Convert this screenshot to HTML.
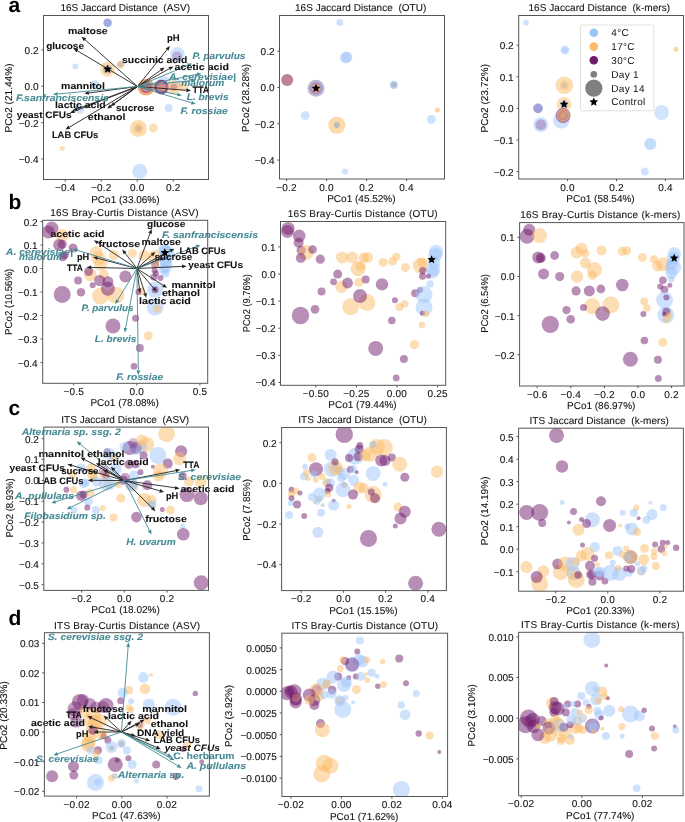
<!DOCTYPE html>
<html><head><meta charset="utf-8"><style>
html,body{margin:0;padding:0;background:#fff;}
svg{display:block;will-change:transform;}
text{font-family:"Liberation Sans", sans-serif;text-rendering:geometricPrecision;}
.r{stroke:#1a1a1a;stroke-width:0.12px;letter-spacing:0.2px;}
.q{stroke:#1a1a1a;stroke-width:0.1px;}
.r0{stroke:#1a1a1a;stroke-width:0.12px;}
</style></head><body>
<svg width="685" height="822" viewBox="0 0 685 822">
<text class="q" x="60.5" y="11.3" font-size="10" fill="#111111" textLength="129.5" lengthAdjust="spacing" xml:space="preserve">16S Jaccard Distance  (ASV)</text>
<line x1="65.2" y1="179.5" x2="65.2" y2="181.7" stroke="#555" stroke-width="1"/>
<text class="r" x="65.2" y="191.2" text-anchor="middle" font-size="10" fill="#111111">−0.4</text>
<line x1="101.2" y1="179.5" x2="101.2" y2="181.7" stroke="#555" stroke-width="1"/>
<text class="r" x="101.2" y="191.2" text-anchor="middle" font-size="10" fill="#111111">−0.2</text>
<line x1="137.2" y1="179.5" x2="137.2" y2="181.7" stroke="#555" stroke-width="1"/>
<text class="r" x="137.2" y="191.2" text-anchor="middle" font-size="10" fill="#111111">0.0</text>
<line x1="173.2" y1="179.5" x2="173.2" y2="181.7" stroke="#555" stroke-width="1"/>
<text class="r" x="173.2" y="191.2" text-anchor="middle" font-size="10" fill="#111111">0.2</text>
<line x1="41.3" y1="49.9" x2="43.5" y2="49.9" stroke="#555" stroke-width="1"/>
<text class="r0" x="38.5" y="53.8" text-anchor="end" font-size="10" fill="#111111">0.2</text>
<line x1="41.3" y1="86.25" x2="43.5" y2="86.25" stroke="#555" stroke-width="1"/>
<text class="r0" x="38.5" y="90.15" text-anchor="end" font-size="10" fill="#111111">0.0</text>
<line x1="41.3" y1="122.6" x2="43.5" y2="122.6" stroke="#555" stroke-width="1"/>
<text class="r0" x="38.5" y="126.5" text-anchor="end" font-size="10" fill="#111111">−0.2</text>
<line x1="41.3" y1="158.95" x2="43.5" y2="158.95" stroke="#555" stroke-width="1"/>
<text class="r0" x="38.5" y="162.85" text-anchor="end" font-size="10" fill="#111111">−0.4</text>
<text class="q" x="125.4" y="202.5" text-anchor="middle" font-size="10" fill="#111111">PCo1 (33.06%)</text>
<text class="q" x="12.5" y="132.4" font-size="10" fill="#111111" textLength="68.9" lengthAdjust="spacingAndGlyphs" transform="rotate(-90 12.5 132.4)">PCo2 (21.44%)</text>
<text class="q" x="295.0" y="11.3" font-size="10" fill="#111111" textLength="131.3" lengthAdjust="spacing" xml:space="preserve">16S Jaccard Distance  (OTU)</text>
<line x1="286.6" y1="179.0" x2="286.6" y2="181.2" stroke="#555" stroke-width="1"/>
<text class="r" x="286.6" y="190.7" text-anchor="middle" font-size="10" fill="#111111">−0.2</text>
<line x1="326.6" y1="179.0" x2="326.6" y2="181.2" stroke="#555" stroke-width="1"/>
<text class="r" x="326.6" y="190.7" text-anchor="middle" font-size="10" fill="#111111">0.0</text>
<line x1="366.6" y1="179.0" x2="366.6" y2="181.2" stroke="#555" stroke-width="1"/>
<text class="r" x="366.6" y="190.7" text-anchor="middle" font-size="10" fill="#111111">0.2</text>
<line x1="406.6" y1="179.0" x2="406.6" y2="181.2" stroke="#555" stroke-width="1"/>
<text class="r" x="406.6" y="190.7" text-anchor="middle" font-size="10" fill="#111111">0.4</text>
<line x1="277.3" y1="51.2" x2="279.5" y2="51.2" stroke="#555" stroke-width="1"/>
<text class="r0" x="274.5" y="55.1" text-anchor="end" font-size="10" fill="#111111">0.2</text>
<line x1="277.3" y1="87.5" x2="279.5" y2="87.5" stroke="#555" stroke-width="1"/>
<text class="r0" x="274.5" y="91.4" text-anchor="end" font-size="10" fill="#111111">0.0</text>
<line x1="277.3" y1="123.8" x2="279.5" y2="123.8" stroke="#555" stroke-width="1"/>
<text class="r0" x="274.5" y="127.7" text-anchor="end" font-size="10" fill="#111111">−0.2</text>
<line x1="277.3" y1="160.1" x2="279.5" y2="160.1" stroke="#555" stroke-width="1"/>
<text class="r0" x="274.5" y="164.0" text-anchor="end" font-size="10" fill="#111111">−0.4</text>
<text class="q" x="361.4" y="202.0" text-anchor="middle" font-size="10" fill="#111111">PCo1 (45.52%)</text>
<text class="q" x="248.6" y="131.9" font-size="10" fill="#111111" textLength="68.0" lengthAdjust="spacingAndGlyphs" transform="rotate(-90 248.6 131.9)">PCo2 (28.28%)</text>
<text class="q" x="528.5" y="11.3" font-size="10" fill="#111111" textLength="141.6" lengthAdjust="spacing" xml:space="preserve">16S Jaccard Distance  (k-mers)</text>
<line x1="567.6" y1="179.0" x2="567.6" y2="181.2" stroke="#555" stroke-width="1"/>
<text class="r" x="567.6" y="190.7" text-anchor="middle" font-size="10" fill="#111111">0.0</text>
<line x1="616.5" y1="179.0" x2="616.5" y2="181.2" stroke="#555" stroke-width="1"/>
<text class="r" x="616.5" y="190.7" text-anchor="middle" font-size="10" fill="#111111">0.2</text>
<line x1="665.4" y1="179.0" x2="665.4" y2="181.2" stroke="#555" stroke-width="1"/>
<text class="r" x="665.4" y="190.7" text-anchor="middle" font-size="10" fill="#111111">0.4</text>
<line x1="516.5" y1="45.2" x2="518.7" y2="45.2" stroke="#555" stroke-width="1"/>
<text class="r0" x="513.7" y="49.1" text-anchor="end" font-size="10" fill="#111111">0.2</text>
<line x1="516.5" y1="76.8" x2="518.7" y2="76.8" stroke="#555" stroke-width="1"/>
<text class="r0" x="513.7" y="80.7" text-anchor="end" font-size="10" fill="#111111">0.1</text>
<line x1="516.5" y1="108.4" x2="518.7" y2="108.4" stroke="#555" stroke-width="1"/>
<text class="r0" x="513.7" y="112.30000000000001" text-anchor="end" font-size="10" fill="#111111">0.0</text>
<line x1="516.5" y1="140.0" x2="518.7" y2="140.0" stroke="#555" stroke-width="1"/>
<text class="r0" x="513.7" y="143.9" text-anchor="end" font-size="10" fill="#111111">−0.1</text>
<line x1="516.5" y1="171.6" x2="518.7" y2="171.6" stroke="#555" stroke-width="1"/>
<text class="r0" x="513.7" y="175.5" text-anchor="end" font-size="10" fill="#111111">−0.2</text>
<text class="q" x="600.5" y="202.0" text-anchor="middle" font-size="10" fill="#111111">PCo1 (58.54%)</text>
<text class="q" x="487.8" y="132.4" font-size="10" fill="#111111" textLength="68.5" lengthAdjust="spacingAndGlyphs" transform="rotate(-90 487.8 132.4)">PCo2 (23.72%)</text>
<text class="q" x="50.2" y="216.10000000000002" font-size="10" fill="#111111" textLength="148.4" lengthAdjust="spacing" xml:space="preserve">16S Bray-Curtis Distance (ASV)</text>
<line x1="73.7" y1="383.3" x2="73.7" y2="385.5" stroke="#555" stroke-width="1"/>
<text class="r" x="73.7" y="395.0" text-anchor="middle" font-size="10" fill="#111111">−0.5</text>
<line x1="136.8" y1="383.3" x2="136.8" y2="385.5" stroke="#555" stroke-width="1"/>
<text class="r" x="136.8" y="395.0" text-anchor="middle" font-size="10" fill="#111111">0.0</text>
<line x1="199.9" y1="383.3" x2="199.9" y2="385.5" stroke="#555" stroke-width="1"/>
<text class="r" x="199.9" y="395.0" text-anchor="middle" font-size="10" fill="#111111">0.5</text>
<line x1="40.5" y1="221.6" x2="42.7" y2="221.6" stroke="#555" stroke-width="1"/>
<text class="r0" x="37.7" y="225.5" text-anchor="end" font-size="10" fill="#111111">0.2</text>
<line x1="40.5" y1="245.1" x2="42.7" y2="245.1" stroke="#555" stroke-width="1"/>
<text class="r0" x="37.7" y="249.0" text-anchor="end" font-size="10" fill="#111111">0.1</text>
<line x1="40.5" y1="268.6" x2="42.7" y2="268.6" stroke="#555" stroke-width="1"/>
<text class="r0" x="37.7" y="272.5" text-anchor="end" font-size="10" fill="#111111">0.0</text>
<line x1="40.5" y1="292.1" x2="42.7" y2="292.1" stroke="#555" stroke-width="1"/>
<text class="r0" x="37.7" y="296.0" text-anchor="end" font-size="10" fill="#111111">−0.1</text>
<line x1="40.5" y1="315.6" x2="42.7" y2="315.6" stroke="#555" stroke-width="1"/>
<text class="r0" x="37.7" y="319.5" text-anchor="end" font-size="10" fill="#111111">−0.2</text>
<line x1="40.5" y1="339.1" x2="42.7" y2="339.1" stroke="#555" stroke-width="1"/>
<text class="r0" x="37.7" y="343.0" text-anchor="end" font-size="10" fill="#111111">−0.3</text>
<line x1="40.5" y1="362.6" x2="42.7" y2="362.6" stroke="#555" stroke-width="1"/>
<text class="r0" x="37.7" y="366.5" text-anchor="end" font-size="10" fill="#111111">−0.4</text>
<text class="q" x="124.6" y="406.3" text-anchor="middle" font-size="10" fill="#111111">PCo1 (78.08%)</text>
<text class="q" x="12.5" y="334.9" font-size="10" fill="#111111" textLength="66.2" lengthAdjust="spacingAndGlyphs" transform="rotate(-90 12.5 334.9)">PCo2 (10.56%)</text>
<text class="q" x="287.8" y="217.3" font-size="10" fill="#111111" textLength="149.9" lengthAdjust="spacing" xml:space="preserve">16S Bray-Curtis Distance (OTU)</text>
<line x1="315.8" y1="385.3" x2="315.8" y2="387.5" stroke="#555" stroke-width="1"/>
<text class="r" x="315.8" y="397.0" text-anchor="middle" font-size="10" fill="#111111">−0.50</text>
<line x1="356.4" y1="385.3" x2="356.4" y2="387.5" stroke="#555" stroke-width="1"/>
<text class="r" x="356.4" y="397.0" text-anchor="middle" font-size="10" fill="#111111">−0.25</text>
<line x1="397.0" y1="385.3" x2="397.0" y2="387.5" stroke="#555" stroke-width="1"/>
<text class="r" x="397.0" y="397.0" text-anchor="middle" font-size="10" fill="#111111">0.00</text>
<line x1="437.6" y1="385.3" x2="437.6" y2="387.5" stroke="#555" stroke-width="1"/>
<text class="r" x="437.6" y="397.0" text-anchor="middle" font-size="10" fill="#111111">0.25</text>
<line x1="278.3" y1="246.9" x2="280.5" y2="246.9" stroke="#555" stroke-width="1"/>
<text class="r0" x="275.5" y="250.8" text-anchor="end" font-size="10" fill="#111111">0.1</text>
<line x1="278.3" y1="274.0" x2="280.5" y2="274.0" stroke="#555" stroke-width="1"/>
<text class="r0" x="275.5" y="277.9" text-anchor="end" font-size="10" fill="#111111">0.0</text>
<line x1="278.3" y1="301.1" x2="280.5" y2="301.1" stroke="#555" stroke-width="1"/>
<text class="r0" x="275.5" y="305.0" text-anchor="end" font-size="10" fill="#111111">−0.1</text>
<line x1="278.3" y1="328.2" x2="280.5" y2="328.2" stroke="#555" stroke-width="1"/>
<text class="r0" x="275.5" y="332.09999999999997" text-anchor="end" font-size="10" fill="#111111">−0.2</text>
<line x1="278.3" y1="355.3" x2="280.5" y2="355.3" stroke="#555" stroke-width="1"/>
<text class="r0" x="275.5" y="359.2" text-anchor="end" font-size="10" fill="#111111">−0.3</text>
<line x1="278.3" y1="382.4" x2="280.5" y2="382.4" stroke="#555" stroke-width="1"/>
<text class="r0" x="275.5" y="386.29999999999995" text-anchor="end" font-size="10" fill="#111111">−0.4</text>
<text class="q" x="362.5" y="408.3" text-anchor="middle" font-size="10" fill="#111111">PCo1 (79.44%)</text>
<text class="q" x="250.0" y="332.29999999999995" font-size="10" fill="#111111" textLength="58.2" lengthAdjust="spacingAndGlyphs" transform="rotate(-90 250.0 332.29999999999995)">PCo2 (9.76%)</text>
<text class="q" x="520.2" y="218.4" font-size="10" fill="#111111" textLength="160.2" lengthAdjust="spacing" xml:space="preserve">16S Bray-Curtis Distance (k-mers)</text>
<line x1="537.2" y1="386.0" x2="537.2" y2="388.2" stroke="#555" stroke-width="1"/>
<text class="r" x="537.2" y="397.7" text-anchor="middle" font-size="10" fill="#111111">−0.6</text>
<line x1="570.8" y1="386.0" x2="570.8" y2="388.2" stroke="#555" stroke-width="1"/>
<text class="r" x="570.8" y="397.7" text-anchor="middle" font-size="10" fill="#111111">−0.4</text>
<line x1="604.4" y1="386.0" x2="604.4" y2="388.2" stroke="#555" stroke-width="1"/>
<text class="r" x="604.4" y="397.7" text-anchor="middle" font-size="10" fill="#111111">−0.2</text>
<line x1="638.0" y1="386.0" x2="638.0" y2="388.2" stroke="#555" stroke-width="1"/>
<text class="r" x="638.0" y="397.7" text-anchor="middle" font-size="10" fill="#111111">0.0</text>
<line x1="671.6" y1="386.0" x2="671.6" y2="388.2" stroke="#555" stroke-width="1"/>
<text class="r" x="671.6" y="397.7" text-anchor="middle" font-size="10" fill="#111111">0.2</text>
<line x1="517.4" y1="237.4" x2="519.6" y2="237.4" stroke="#555" stroke-width="1"/>
<text class="r0" x="514.6" y="241.3" text-anchor="end" font-size="10" fill="#111111">0.1</text>
<line x1="517.4" y1="276.5" x2="519.6" y2="276.5" stroke="#555" stroke-width="1"/>
<text class="r0" x="514.6" y="280.4" text-anchor="end" font-size="10" fill="#111111">0.0</text>
<line x1="517.4" y1="315.6" x2="519.6" y2="315.6" stroke="#555" stroke-width="1"/>
<text class="r0" x="514.6" y="319.5" text-anchor="end" font-size="10" fill="#111111">−0.1</text>
<line x1="517.4" y1="354.7" x2="519.6" y2="354.7" stroke="#555" stroke-width="1"/>
<text class="r0" x="514.6" y="358.59999999999997" text-anchor="end" font-size="10" fill="#111111">−0.2</text>
<text class="q" x="601.1999999999999" y="409.0" text-anchor="middle" font-size="10" fill="#111111">PCo1 (86.97%)</text>
<text class="q" x="487.8" y="332.79999999999995" font-size="10" fill="#111111" textLength="58.7" lengthAdjust="spacingAndGlyphs" transform="rotate(-90 487.8 332.79999999999995)">PCo2 (6.54%)</text>
<text class="q" x="61.2" y="422.90000000000003" font-size="10" fill="#111111" textLength="128.0" lengthAdjust="spacing" xml:space="preserve">ITS Jaccard Distance  (ASV)</text>
<line x1="81.6" y1="590.4" x2="81.6" y2="592.6" stroke="#555" stroke-width="1"/>
<text class="r" x="81.6" y="602.1" text-anchor="middle" font-size="10" fill="#111111">−0.2</text>
<line x1="124.3" y1="590.4" x2="124.3" y2="592.6" stroke="#555" stroke-width="1"/>
<text class="r" x="124.3" y="602.1" text-anchor="middle" font-size="10" fill="#111111">0.0</text>
<line x1="167.0" y1="590.4" x2="167.0" y2="592.6" stroke="#555" stroke-width="1"/>
<text class="r" x="167.0" y="602.1" text-anchor="middle" font-size="10" fill="#111111">0.2</text>
<line x1="41.599999999999994" y1="438.7" x2="43.8" y2="438.7" stroke="#555" stroke-width="1"/>
<text class="r0" x="38.8" y="442.59999999999997" text-anchor="end" font-size="10" fill="#111111">0.2</text>
<line x1="41.599999999999994" y1="459.55" x2="43.8" y2="459.55" stroke="#555" stroke-width="1"/>
<text class="r0" x="38.8" y="463.45" text-anchor="end" font-size="10" fill="#111111">0.1</text>
<line x1="41.599999999999994" y1="480.4" x2="43.8" y2="480.4" stroke="#555" stroke-width="1"/>
<text class="r0" x="38.8" y="484.29999999999995" text-anchor="end" font-size="10" fill="#111111">0.0</text>
<line x1="41.599999999999994" y1="501.25" x2="43.8" y2="501.25" stroke="#555" stroke-width="1"/>
<text class="r0" x="38.8" y="505.15" text-anchor="end" font-size="10" fill="#111111">−0.1</text>
<line x1="41.599999999999994" y1="522.1" x2="43.8" y2="522.1" stroke="#555" stroke-width="1"/>
<text class="r0" x="38.8" y="526.0" text-anchor="end" font-size="10" fill="#111111">−0.2</text>
<line x1="41.599999999999994" y1="542.95" x2="43.8" y2="542.95" stroke="#555" stroke-width="1"/>
<text class="r0" x="38.8" y="546.85" text-anchor="end" font-size="10" fill="#111111">−0.3</text>
<line x1="41.599999999999994" y1="563.8" x2="43.8" y2="563.8" stroke="#555" stroke-width="1"/>
<text class="r0" x="38.8" y="567.6999999999999" text-anchor="end" font-size="10" fill="#111111">−0.4</text>
<line x1="41.599999999999994" y1="584.65" x2="43.8" y2="584.65" stroke="#555" stroke-width="1"/>
<text class="r0" x="38.8" y="588.55" text-anchor="end" font-size="10" fill="#111111">−0.5</text>
<text class="q" x="125.55000000000001" y="613.4" text-anchor="middle" font-size="10" fill="#111111">PCo1 (18.02%)</text>
<text class="q" x="12.6" y="537.5" font-size="10" fill="#111111" textLength="59.2" lengthAdjust="spacingAndGlyphs" transform="rotate(-90 12.6 537.5)">PCo2 (8.93%)</text>
<text class="q" x="298.3" y="423.3" font-size="10" fill="#111111" textLength="128.5" lengthAdjust="spacing" xml:space="preserve">ITS Jaccard Distance  (OTU)</text>
<line x1="301.2" y1="590.6" x2="301.2" y2="592.8000000000001" stroke="#555" stroke-width="1"/>
<text class="r" x="301.2" y="602.3000000000001" text-anchor="middle" font-size="10" fill="#111111">−0.2</text>
<line x1="343.4" y1="590.6" x2="343.4" y2="592.8000000000001" stroke="#555" stroke-width="1"/>
<text class="r" x="343.4" y="602.3000000000001" text-anchor="middle" font-size="10" fill="#111111">0.0</text>
<line x1="385.6" y1="590.6" x2="385.6" y2="592.8000000000001" stroke="#555" stroke-width="1"/>
<text class="r" x="385.6" y="602.3000000000001" text-anchor="middle" font-size="10" fill="#111111">0.2</text>
<line x1="427.8" y1="590.6" x2="427.8" y2="592.8000000000001" stroke="#555" stroke-width="1"/>
<text class="r" x="427.8" y="602.3000000000001" text-anchor="middle" font-size="10" fill="#111111">0.4</text>
<line x1="279.40000000000003" y1="442.7" x2="281.6" y2="442.7" stroke="#555" stroke-width="1"/>
<text class="r0" x="276.6" y="446.59999999999997" text-anchor="end" font-size="10" fill="#111111">0.2</text>
<line x1="279.40000000000003" y1="483.3" x2="281.6" y2="483.3" stroke="#555" stroke-width="1"/>
<text class="r0" x="276.6" y="487.2" text-anchor="end" font-size="10" fill="#111111">0.0</text>
<line x1="279.40000000000003" y1="523.9" x2="281.6" y2="523.9" stroke="#555" stroke-width="1"/>
<text class="r0" x="276.6" y="527.8" text-anchor="end" font-size="10" fill="#111111">−0.2</text>
<line x1="279.40000000000003" y1="564.5" x2="281.6" y2="564.5" stroke="#555" stroke-width="1"/>
<text class="r0" x="276.6" y="568.4" text-anchor="end" font-size="10" fill="#111111">−0.4</text>
<text class="q" x="363.4" y="613.6" text-anchor="middle" font-size="10" fill="#111111">PCo1 (15.15%)</text>
<text class="q" x="250.3" y="540.6999999999999" font-size="10" fill="#111111" textLength="61.6" lengthAdjust="spacingAndGlyphs" transform="rotate(-90 250.3 540.6999999999999)">PCo2 (7.85%)</text>
<text class="q" x="529.4" y="424.0" font-size="10" fill="#111111" textLength="139.5" lengthAdjust="spacing" xml:space="preserve">ITS Jaccard Distance  (k-mers)</text>
<line x1="555.7" y1="591.2" x2="555.7" y2="593.4000000000001" stroke="#555" stroke-width="1"/>
<text class="r" x="555.7" y="602.9000000000001" text-anchor="middle" font-size="10" fill="#111111">−0.2</text>
<line x1="607.8" y1="591.2" x2="607.8" y2="593.4000000000001" stroke="#555" stroke-width="1"/>
<text class="r" x="607.8" y="602.9000000000001" text-anchor="middle" font-size="10" fill="#111111">0.0</text>
<line x1="659.9" y1="591.2" x2="659.9" y2="593.4000000000001" stroke="#555" stroke-width="1"/>
<text class="r" x="659.9" y="602.9000000000001" text-anchor="middle" font-size="10" fill="#111111">0.2</text>
<line x1="516.4" y1="436.7" x2="518.6" y2="436.7" stroke="#555" stroke-width="1"/>
<text class="r0" x="513.6" y="440.59999999999997" text-anchor="end" font-size="10" fill="#111111">0.5</text>
<line x1="516.4" y1="459.2" x2="518.6" y2="459.2" stroke="#555" stroke-width="1"/>
<text class="r0" x="513.6" y="463.09999999999997" text-anchor="end" font-size="10" fill="#111111">0.4</text>
<line x1="516.4" y1="481.7" x2="518.6" y2="481.7" stroke="#555" stroke-width="1"/>
<text class="r0" x="513.6" y="485.59999999999997" text-anchor="end" font-size="10" fill="#111111">0.3</text>
<line x1="516.4" y1="504.2" x2="518.6" y2="504.2" stroke="#555" stroke-width="1"/>
<text class="r0" x="513.6" y="508.09999999999997" text-anchor="end" font-size="10" fill="#111111">0.2</text>
<line x1="516.4" y1="526.7" x2="518.6" y2="526.7" stroke="#555" stroke-width="1"/>
<text class="r0" x="513.6" y="530.6" text-anchor="end" font-size="10" fill="#111111">0.1</text>
<line x1="516.4" y1="549.2" x2="518.6" y2="549.2" stroke="#555" stroke-width="1"/>
<text class="r0" x="513.6" y="553.1" text-anchor="end" font-size="10" fill="#111111">0.0</text>
<line x1="516.4" y1="571.7" x2="518.6" y2="571.7" stroke="#555" stroke-width="1"/>
<text class="r0" x="513.6" y="575.6" text-anchor="end" font-size="10" fill="#111111">−0.1</text>
<text class="q" x="600.4" y="614.2" text-anchor="middle" font-size="10" fill="#111111">PCo1 (20.33%)</text>
<text class="q" x="487.8" y="545.1999999999999" font-size="10" fill="#111111" textLength="68.7" lengthAdjust="spacingAndGlyphs" transform="rotate(-90 487.8 545.1999999999999)">PCo2 (14.19%)</text>
<text class="q" x="54.1" y="628.5" font-size="10" fill="#111111" textLength="146.1" lengthAdjust="spacing" xml:space="preserve">ITS Bray-Curtis Distance (ASV)</text>
<line x1="76.6" y1="796.1" x2="76.6" y2="798.3000000000001" stroke="#555" stroke-width="1"/>
<text class="r" x="76.6" y="807.8000000000001" text-anchor="middle" font-size="10" fill="#111111">−0.02</text>
<line x1="121.8" y1="796.1" x2="121.8" y2="798.3000000000001" stroke="#555" stroke-width="1"/>
<text class="r" x="121.8" y="807.8000000000001" text-anchor="middle" font-size="10" fill="#111111">0.00</text>
<line x1="167.0" y1="796.1" x2="167.0" y2="798.3000000000001" stroke="#555" stroke-width="1"/>
<text class="r" x="167.0" y="807.8000000000001" text-anchor="middle" font-size="10" fill="#111111">0.02</text>
<line x1="42.199999999999996" y1="643.3" x2="44.4" y2="643.3" stroke="#555" stroke-width="1"/>
<text class="r0" x="39.4" y="647.1999999999999" text-anchor="end" font-size="10" fill="#111111">0.03</text>
<line x1="42.199999999999996" y1="672.9" x2="44.4" y2="672.9" stroke="#555" stroke-width="1"/>
<text class="r0" x="39.4" y="676.8" text-anchor="end" font-size="10" fill="#111111">0.02</text>
<line x1="42.199999999999996" y1="702.5" x2="44.4" y2="702.5" stroke="#555" stroke-width="1"/>
<text class="r0" x="39.4" y="706.4" text-anchor="end" font-size="10" fill="#111111">0.01</text>
<line x1="42.199999999999996" y1="732.1" x2="44.4" y2="732.1" stroke="#555" stroke-width="1"/>
<text class="r0" x="39.4" y="736.0" text-anchor="end" font-size="10" fill="#111111">0.00</text>
<line x1="42.199999999999996" y1="761.7" x2="44.4" y2="761.7" stroke="#555" stroke-width="1"/>
<text class="r0" x="39.4" y="765.6" text-anchor="end" font-size="10" fill="#111111">−0.01</text>
<line x1="42.199999999999996" y1="791.3" x2="44.4" y2="791.3" stroke="#555" stroke-width="1"/>
<text class="r0" x="39.4" y="795.1999999999999" text-anchor="end" font-size="10" fill="#111111">−0.02</text>
<text class="q" x="126.30000000000001" y="819.1" text-anchor="middle" font-size="10" fill="#111111">PCo1 (47.63%)</text>
<text class="q" x="7.4" y="749.6999999999999" font-size="10" fill="#111111" textLength="68.6" lengthAdjust="spacingAndGlyphs" transform="rotate(-90 7.4 749.6999999999999)">PCo2 (20.33%)</text>
<text class="q" x="291.6" y="629.0" font-size="10" fill="#111111" textLength="146.6" lengthAdjust="spacing" xml:space="preserve">ITS Bray-Curtis Distance (OTU)</text>
<line x1="290.9" y1="796.5" x2="290.9" y2="798.7" stroke="#555" stroke-width="1"/>
<text class="r" x="290.9" y="808.2" text-anchor="middle" font-size="10" fill="#111111">−0.02</text>
<line x1="341.4" y1="796.5" x2="341.4" y2="798.7" stroke="#555" stroke-width="1"/>
<text class="r" x="341.4" y="808.2" text-anchor="middle" font-size="10" fill="#111111">0.00</text>
<line x1="391.9" y1="796.5" x2="391.9" y2="798.7" stroke="#555" stroke-width="1"/>
<text class="r" x="391.9" y="808.2" text-anchor="middle" font-size="10" fill="#111111">0.02</text>
<line x1="442.4" y1="796.5" x2="442.4" y2="798.7" stroke="#555" stroke-width="1"/>
<text class="r" x="442.4" y="808.2" text-anchor="middle" font-size="10" fill="#111111">0.04</text>
<line x1="279.7" y1="647.9" x2="281.9" y2="647.9" stroke="#555" stroke-width="1"/>
<text class="r0" x="276.9" y="651.8" text-anchor="end" font-size="10" fill="#111111">0.0050</text>
<line x1="279.7" y1="669.6" x2="281.9" y2="669.6" stroke="#555" stroke-width="1"/>
<text class="r0" x="276.9" y="673.5" text-anchor="end" font-size="10" fill="#111111">0.0025</text>
<line x1="279.7" y1="691.3" x2="281.9" y2="691.3" stroke="#555" stroke-width="1"/>
<text class="r0" x="276.9" y="695.1999999999999" text-anchor="end" font-size="10" fill="#111111">0.0000</text>
<line x1="279.7" y1="713.0" x2="281.9" y2="713.0" stroke="#555" stroke-width="1"/>
<text class="r0" x="276.9" y="716.9" text-anchor="end" font-size="10" fill="#111111">−0.0025</text>
<line x1="279.7" y1="734.7" x2="281.9" y2="734.7" stroke="#555" stroke-width="1"/>
<text class="r0" x="276.9" y="738.6" text-anchor="end" font-size="10" fill="#111111">−0.0050</text>
<line x1="279.7" y1="756.4" x2="281.9" y2="756.4" stroke="#555" stroke-width="1"/>
<text class="r0" x="276.9" y="760.3" text-anchor="end" font-size="10" fill="#111111">−0.0075</text>
<line x1="279.7" y1="778.1" x2="281.9" y2="778.1" stroke="#555" stroke-width="1"/>
<text class="r0" x="276.9" y="782.0" text-anchor="end" font-size="10" fill="#111111">−0.0100</text>
<text class="q" x="364.15" y="819.5" text-anchor="middle" font-size="10" fill="#111111">PCo1 (71.62%)</text>
<text class="q" x="232.0" y="746.9" font-size="10" fill="#111111" textLength="62.0" lengthAdjust="spacingAndGlyphs" transform="rotate(-90 232.0 746.9)">PCo2 (3.92%)</text>
<text class="q" x="521.0" y="628.0999999999999" font-size="10" fill="#111111" textLength="158.6" lengthAdjust="spacing" xml:space="preserve">ITS Bray-Curtis Distance (k-mers)</text>
<line x1="521.2" y1="795.7" x2="521.2" y2="797.9000000000001" stroke="#555" stroke-width="1"/>
<text class="r" x="521.2" y="807.4000000000001" text-anchor="middle" font-size="10" fill="#111111">−0.02</text>
<line x1="581.8" y1="795.7" x2="581.8" y2="797.9000000000001" stroke="#555" stroke-width="1"/>
<text class="r" x="581.8" y="807.4000000000001" text-anchor="middle" font-size="10" fill="#111111">0.00</text>
<line x1="642.4" y1="795.7" x2="642.4" y2="797.9000000000001" stroke="#555" stroke-width="1"/>
<text class="r" x="642.4" y="807.4000000000001" text-anchor="middle" font-size="10" fill="#111111">0.02</text>
<line x1="516.4" y1="636.8" x2="518.6" y2="636.8" stroke="#555" stroke-width="1"/>
<text class="r0" x="513.6" y="640.6999999999999" text-anchor="end" font-size="10" fill="#111111">0.010</text>
<line x1="516.4" y1="677.5" x2="518.6" y2="677.5" stroke="#555" stroke-width="1"/>
<text class="r0" x="513.6" y="681.4" text-anchor="end" font-size="10" fill="#111111">0.005</text>
<line x1="516.4" y1="718.2" x2="518.6" y2="718.2" stroke="#555" stroke-width="1"/>
<text class="r0" x="513.6" y="722.1" text-anchor="end" font-size="10" fill="#111111">0.000</text>
<line x1="516.4" y1="758.9" x2="518.6" y2="758.9" stroke="#555" stroke-width="1"/>
<text class="r0" x="513.6" y="762.8" text-anchor="end" font-size="10" fill="#111111">−0.005</text>
<text class="q" x="600.25" y="818.7" text-anchor="middle" font-size="10" fill="#111111">PCo1 (77.74%)</text>
<text class="q" x="474.8" y="746.4" font-size="10" fill="#111111" textLength="62.3" lengthAdjust="spacingAndGlyphs" transform="rotate(-90 474.8 746.4)">PCo2 (3.10%)</text>
<text x="8.5" y="11.8" font-size="21" font-weight="bold" fill="#000">a</text>
<text x="8.5" y="209.0" font-size="21" font-weight="bold" fill="#000">b</text>
<text x="8.5" y="414.5" font-size="21" font-weight="bold" fill="#000">c</text>
<text x="8.5" y="625.0" font-size="21" font-weight="bold" fill="#000">d</text>
<clipPath id="ca1"><rect x="43.5" y="15.5" width="165.0" height="164.0"/></clipPath><g clip-path="url(#ca1)">
<circle cx="107.6" cy="22.7" r="4.3" fill="#9ec5fb" fill-opacity="0.85"/>
<circle cx="107.6" cy="22.7" r="4.0" fill="#721c6e" fill-opacity="0.2"/>
<circle cx="75.4" cy="66.5" r="3.0" fill="#9ec5fb" fill-opacity="0.5"/>
<circle cx="107.6" cy="69.2" r="7.5" fill="#fbbb68" fill-opacity="0.5"/>
<circle cx="107.6" cy="69.2" r="4.5" fill="#999999" fill-opacity="0.5"/>
<circle cx="120.6" cy="64.6" r="4.2" fill="#fbbb68" fill-opacity="0.5"/>
<circle cx="120.6" cy="64.6" r="3.0" fill="#aaaaaa" fill-opacity="0.5"/>
<circle cx="95.2" cy="84.5" r="4.2" fill="#9ec5fb" fill-opacity="0.5"/>
<circle cx="79.7" cy="109.2" r="4.5" fill="#9ec5fb" fill-opacity="0.5"/>
<circle cx="62.3" cy="148.6" r="2.5" fill="#fbbb68" fill-opacity="0.5"/>
<circle cx="168.7" cy="108.0" r="4.0" fill="#9ec5fb" fill-opacity="0.5"/>
<circle cx="138.4" cy="128.6" r="8.5" fill="#fbbb68" fill-opacity="0.5"/>
<circle cx="138.4" cy="128.6" r="5.0" fill="#fbbb68" fill-opacity="0.5"/>
<circle cx="138.4" cy="128.6" r="3.0" fill="#aaaaaa" fill-opacity="0.4"/>
<circle cx="153.4" cy="127.9" r="4.5" fill="#fbbb68" fill-opacity="0.5"/>
<circle cx="139.8" cy="171.2" r="7.5" fill="#9ec5fb" fill-opacity="0.5"/>
<circle cx="177.5" cy="54.3" r="7.2" fill="#9ec5fb" fill-opacity="0.5"/>
<circle cx="177.0" cy="56.4" r="5.0" fill="#721c6e" fill-opacity="0.25"/>
<circle cx="163.7" cy="82.9" r="7.0" fill="#9ec5fb" fill-opacity="0.5"/>
<circle cx="176.5" cy="82.9" r="5.0" fill="#9ec5fb" fill-opacity="0.5"/>
<circle cx="146.0" cy="87.3" r="8.3" fill="#e8955a" fill-opacity="0.8"/>
<circle cx="146.0" cy="87.3" r="5.6" fill="#721c6e" fill-opacity="0.55"/>
<circle cx="146.0" cy="87.3" r="4.2" fill="#e0a0a0" fill-opacity="0.7"/>
<circle cx="161.4" cy="87.1" r="7.3" fill="#721c6e" fill-opacity="0.8"/>
<circle cx="161.4" cy="87.1" r="5.0" fill="#d89088" fill-opacity="0.95"/>
<circle cx="173.6" cy="87.3" r="7.0" fill="#fbbb68" fill-opacity="0.5"/>
<circle cx="173.6" cy="87.3" r="3.5" fill="#d08880" fill-opacity="0.7"/>
<circle cx="183.0" cy="86.5" r="5.0" fill="#fbbb68" fill-opacity="0.5"/>
</g>
<line x1="137.5" y1="86.5" x2="85.03" y2="39.76" stroke="#222" stroke-width="0.9"/>
<polygon points="81.60,36.70 86.30,38.34 83.77,41.18" fill="#222"/>
<line x1="137.5" y1="86.5" x2="77.46" y2="50.85" stroke="#222" stroke-width="0.9"/>
<polygon points="73.50,48.50 78.43,49.21 76.49,52.48" fill="#222"/>
<line x1="137.5" y1="86.5" x2="167.03" y2="49.59" stroke="#222" stroke-width="0.9"/>
<polygon points="169.90,46.00 168.51,50.78 165.54,48.41" fill="#222"/>
<line x1="137.5" y1="86.5" x2="160.83" y2="70.14" stroke="#222" stroke-width="0.9"/>
<polygon points="164.60,67.50 161.92,71.70 159.74,68.58" fill="#222"/>
<line x1="137.5" y1="86.5" x2="169.39" y2="68.65" stroke="#222" stroke-width="0.9"/>
<polygon points="173.40,66.40 170.31,70.31 168.46,66.99" fill="#222"/>
<line x1="137.5" y1="86.5" x2="186.41" y2="90.25" stroke="#222" stroke-width="0.9"/>
<polygon points="191.00,90.60 186.27,92.14 186.56,88.35" fill="#222"/>
<line x1="137.5" y1="86.5" x2="88.86" y2="92.99" stroke="#222" stroke-width="0.9"/>
<polygon points="84.30,93.60 88.61,91.11 89.11,94.87" fill="#222"/>
<line x1="137.5" y1="86.5" x2="77.11" y2="108.90" stroke="#222" stroke-width="0.9"/>
<polygon points="72.80,110.50 76.45,107.12 77.77,110.68" fill="#222"/>
<line x1="137.5" y1="86.5" x2="74.28" y2="111.32" stroke="#222" stroke-width="0.9"/>
<polygon points="70.00,113.00 73.59,109.55 74.98,113.09" fill="#222"/>
<line x1="137.5" y1="86.5" x2="111.01" y2="105.88" stroke="#222" stroke-width="0.9"/>
<polygon points="107.30,108.60 109.89,104.35 112.13,107.42" fill="#222"/>
<line x1="137.5" y1="86.5" x2="114.21" y2="103.58" stroke="#222" stroke-width="0.9"/>
<polygon points="110.50,106.30 113.09,102.05 115.33,105.11" fill="#222"/>
<line x1="137.5" y1="86.5" x2="69.35" y2="127.24" stroke="#222" stroke-width="0.9"/>
<polygon points="65.40,129.60 68.37,125.61 70.32,128.87" fill="#222"/>
<line x1="137.5" y1="86.5" x2="187.76" y2="65.29" stroke="#448a94" stroke-width="0.9"/>
<polygon points="192.00,63.50 188.50,67.04 187.02,63.54" fill="#448a94"/>
<line x1="137.5" y1="86.5" x2="196.99" y2="74.42" stroke="#448a94" stroke-width="0.9"/>
<polygon points="201.50,73.50 197.37,76.28 196.61,72.55" fill="#448a94"/>
<line x1="137.5" y1="86.5" x2="191.43" y2="80.51" stroke="#448a94" stroke-width="0.9"/>
<polygon points="196.00,80.00 191.64,82.40 191.22,78.62" fill="#448a94"/>
<line x1="137.5" y1="86.5" x2="177.39" y2="94.50" stroke="#448a94" stroke-width="0.9"/>
<polygon points="181.90,95.40 177.02,96.36 177.76,92.63" fill="#448a94"/>
<line x1="137.5" y1="86.5" x2="191.40" y2="102.77" stroke="#448a94" stroke-width="0.9"/>
<polygon points="195.80,104.10 190.85,104.59 191.95,100.95" fill="#448a94"/>
<line x1="137.5" y1="86.5" x2="57.58" y2="93.97" stroke="#448a94" stroke-width="0.9"/>
<polygon points="53.00,94.40 57.40,92.08 57.76,95.86" fill="#448a94"/>
<polygon points="107.60,64.70 108.84,67.49 111.88,67.81 109.61,69.85 110.25,72.84 107.60,71.31 104.95,72.84 105.59,69.85 103.32,67.81 106.36,67.49" fill="#000"/>
<text x="67.9" y="33.7" font-size="9.3" font-weight="bold" fill="#111111" stroke="#111111" stroke-width="0.08" textLength="39.7" lengthAdjust="spacingAndGlyphs">maltose</text>
<text x="46.2" y="48.7" font-size="9.3" font-weight="bold" fill="#111111" stroke="#111111" stroke-width="0.08" textLength="37.8" lengthAdjust="spacingAndGlyphs">glucose</text>
<text x="166.9" y="40.7" font-size="9.3" font-weight="bold" fill="#111111" stroke="#111111" stroke-width="0.08" textLength="12.7" lengthAdjust="spacingAndGlyphs">pH</text>
<text x="122.1" y="62.9" font-size="9.3" font-weight="bold" fill="#111111" stroke="#111111" stroke-width="0.08" textLength="65.2" lengthAdjust="spacingAndGlyphs">succinic acid</text>
<text x="174.6" y="69.5" font-size="9.3" font-weight="bold" fill="#111111" stroke="#111111" stroke-width="0.08" textLength="54.3" lengthAdjust="spacingAndGlyphs">acetic acid</text>
<text x="192.4" y="93.2" font-size="9.3" font-weight="bold" fill="#111111" stroke="#111111" stroke-width="0.08" textLength="16.9" lengthAdjust="spacingAndGlyphs">TTA</text>
<text x="61.0" y="89.0" font-size="9.3" font-weight="bold" fill="#111111" stroke="#111111" stroke-width="0.08" textLength="44.0" lengthAdjust="spacingAndGlyphs">mannitol</text>
<text x="54.9" y="107.9" font-size="9.3" font-weight="bold" fill="#111111" stroke="#111111" stroke-width="0.08" textLength="50.9" lengthAdjust="spacingAndGlyphs">lactic acid</text>
<text x="16.8" y="117.8" font-size="9.3" font-weight="bold" fill="#111111" stroke="#111111" stroke-width="0.08" textLength="54.8" lengthAdjust="spacingAndGlyphs">yeast CFUs</text>
<text x="87.8" y="119.7" font-size="9.3" font-weight="bold" fill="#111111" stroke="#111111" stroke-width="0.08" textLength="37.7" lengthAdjust="spacingAndGlyphs">ethanol</text>
<text x="116.0" y="111.1" font-size="9.3" font-weight="bold" fill="#111111" stroke="#111111" stroke-width="0.08" textLength="38.4" lengthAdjust="spacingAndGlyphs">sucrose</text>
<text x="51.9" y="137.8" font-size="9.3" font-weight="bold" fill="#111111" stroke="#111111" stroke-width="0.08" textLength="46.4" lengthAdjust="spacingAndGlyphs">LAB CFUs</text>
<text x="192.4" y="58.6" font-size="9.3" font-weight="bold" font-style="italic" fill="#448a94" stroke="#448a94" stroke-width="0.08" textLength="53.0" lengthAdjust="spacingAndGlyphs">P. parvulus</text>
<text x="169.0" y="79.7" font-size="9.3" font-weight="bold" font-style="italic" fill="#448a94" stroke="#448a94" stroke-width="0.08" textLength="66.9" lengthAdjust="spacingAndGlyphs">A. cerevisiae|</text>
<text x="181.2" y="85.6" font-size="9.3" font-weight="bold" font-style="italic" fill="#448a94" stroke="#448a94" stroke-width="0.08" textLength="43.0" lengthAdjust="spacingAndGlyphs">malorum</text>
<text x="186.7" y="99.7" font-size="9.3" font-weight="bold" font-style="italic" fill="#448a94" stroke="#448a94" stroke-width="0.08" textLength="41.9" lengthAdjust="spacingAndGlyphs">L. brevis</text>
<text x="180.4" y="114.3" font-size="9.3" font-weight="bold" font-style="italic" fill="#448a94" stroke="#448a94" stroke-width="0.08" textLength="47.5" lengthAdjust="spacingAndGlyphs">F. rossiae</text>
<text x="16.0" y="101.1" font-size="9.3" font-weight="bold" font-style="italic" fill="#448a94" stroke="#448a94" stroke-width="0.08" textLength="92.9" lengthAdjust="spacingAndGlyphs">F.sanfranciscensis</text>
<clipPath id="ca2"><rect x="279.5" y="15.5" width="165.0" height="163.5"/></clipPath><g clip-path="url(#ca2)">
<circle cx="339.8" cy="22.5" r="3.4" fill="#9ec5fb" fill-opacity="0.5"/>
<circle cx="346.2" cy="57.4" r="6.0" fill="#9ec5fb" fill-opacity="0.65"/>
<circle cx="346.2" cy="57.4" r="4.5" fill="#9ec5fb" fill-opacity="0.35"/>
<circle cx="287.2" cy="80.0" r="6.0" fill="#a4557a" fill-opacity="0.75"/>
<circle cx="316.0" cy="88.3" r="8.5" fill="#a8a2c4" fill-opacity="0.75"/>
<circle cx="316.0" cy="88.3" r="6.2" fill="#9a7cc8" fill-opacity="0.7"/>
<circle cx="316.0" cy="88.3" r="4.6" fill="#e2a090" fill-opacity="0.95"/>
<circle cx="393.8" cy="84.9" r="4.2" fill="#9ec5fb" fill-opacity="0.7"/>
<circle cx="393.8" cy="84.9" r="2.7" fill="#b0b8c8" fill-opacity="0.9"/>
<circle cx="305.2" cy="115.6" r="4.5" fill="#9ec5fb" fill-opacity="0.5"/>
<circle cx="336.8" cy="125.1" r="8.6" fill="#fbbb68" fill-opacity="0.55"/>
<circle cx="336.8" cy="125.1" r="3.0" fill="#b8b8b8" fill-opacity="0.9"/>
<circle cx="345.0" cy="171.5" r="3.0" fill="#9ec5fb" fill-opacity="0.5"/>
<circle cx="431.4" cy="119.4" r="4.5" fill="#9ec5fb" fill-opacity="0.5"/>
<circle cx="437.3" cy="109.9" r="2.5" fill="#fbbb68" fill-opacity="0.6"/>
</g>
<polygon points="316.00,83.80 317.24,86.59 320.28,86.91 318.01,88.95 318.65,91.94 316.00,90.41 313.35,91.94 313.99,88.95 311.72,86.91 314.76,86.59" fill="#000"/>
<clipPath id="ca3"><rect x="518.7" y="15.5" width="164.79999999999995" height="163.5"/></clipPath><g clip-path="url(#ca3)">
<circle cx="526.0" cy="22.7" r="3.0" fill="#9ec5fb" fill-opacity="0.5"/>
<circle cx="565.0" cy="49.9" r="4.5" fill="#9ec5fb" fill-opacity="0.5"/>
<circle cx="565.0" cy="50.3" r="3.0" fill="#9ec5fb" fill-opacity="0.4"/>
<circle cx="676.0" cy="49.2" r="2.5" fill="#fbbb68" fill-opacity="0.6"/>
<circle cx="564.4" cy="85.3" r="8.8" fill="#fbbb68" fill-opacity="0.5"/>
<circle cx="564.4" cy="85.3" r="4.8" fill="#fbbb68" fill-opacity="0.4"/>
<circle cx="564.4" cy="85.3" r="3.0" fill="#c8b8a8" fill-opacity="0.5"/>
<circle cx="564.1" cy="104.3" r="7.4" fill="#fbbb68" fill-opacity="0.5"/>
<circle cx="564.1" cy="104.3" r="4.0" fill="#9ec5fb" fill-opacity="0.6"/>
<circle cx="538.0" cy="108.4" r="4.8" fill="#9ec5fb" fill-opacity="0.8"/>
<circle cx="538.0" cy="108.4" r="4.8" fill="#721c6e" fill-opacity="0.25"/>
<circle cx="561.3" cy="120.3" r="8.3" fill="#9ec5fb" fill-opacity="0.5"/>
<circle cx="563.1" cy="115.5" r="7.4" fill="#721c6e" fill-opacity="0.55"/>
<circle cx="563.1" cy="115.5" r="6.5" fill="#fbbb68" fill-opacity="0.55"/>
<circle cx="563.1" cy="115.5" r="4.5" fill="#721c6e" fill-opacity="0.2"/>
<circle cx="563.1" cy="115.5" r="3.5" fill="#fbbb68" fill-opacity="0.4"/>
<circle cx="540.8" cy="124.7" r="7.4" fill="#9ec5fb" fill-opacity="0.5"/>
<circle cx="540.8" cy="124.7" r="5.4" fill="#721c6e" fill-opacity="0.3"/>
<circle cx="661.6" cy="112.5" r="7.5" fill="#9ec5fb" fill-opacity="0.45"/>
<circle cx="650.3" cy="143.9" r="6.0" fill="#9ec5fb" fill-opacity="0.6"/>
<circle cx="644.8" cy="171.6" r="4.0" fill="#9ec5fb" fill-opacity="0.5"/>
</g>
<polygon points="564.10,99.80 565.34,102.59 568.38,102.91 566.11,104.95 566.75,107.94 564.10,106.41 561.45,107.94 562.09,104.95 559.82,102.91 562.86,102.59" fill="#000"/>
<rect x="580.5" y="25.0" width="73.3" height="85.8" rx="2" fill="#fff" fill-opacity="0.85" stroke="#d8d8d8" stroke-width="0.8"/>
<circle cx="593.8" cy="32.8" r="4.3" fill="#9ec5fb" fill-opacity="1"/>
<circle cx="593.8" cy="46.6" r="4.3" fill="#fbbb68" fill-opacity="1"/>
<circle cx="593.8" cy="60.3" r="4.3" fill="#721c6e" fill-opacity="1"/>
<circle cx="593.8" cy="74.4" r="3.3" fill="#808080" fill-opacity="1"/>
<circle cx="593.8" cy="88.2" r="8.6" fill="#808080" fill-opacity="1"/>
<polygon points="593.80,97.40 595.07,100.25 598.17,100.58 595.86,102.67 596.50,105.72 593.80,104.16 591.10,105.72 591.74,102.67 589.43,100.58 592.53,100.25" fill="#000"/>
<text x="611.3" y="35.9" font-size="10" fill="#111111" letter-spacing="0.3">4°C</text>
<text x="611.3" y="49.7" font-size="10" fill="#111111" letter-spacing="0.3">17°C</text>
<text x="611.3" y="63.5" font-size="10" fill="#111111" letter-spacing="0.3">30°C</text>
<text x="611.3" y="77.5" font-size="10" fill="#111111" letter-spacing="0.3">Day 1</text>
<text x="611.3" y="91.6" font-size="10" fill="#111111" letter-spacing="0.3">Day 14</text>
<text x="611.3" y="105.4" font-size="10" fill="#111111" letter-spacing="0.3">Control</text>
<clipPath id="cb1"><rect x="42.7" y="220.3" width="165.0" height="163.0"/></clipPath><g clip-path="url(#cb1)">
<circle cx="48.2" cy="231.9" r="6.5" fill="#721c6e" fill-opacity="0.5"/>
<circle cx="51.8" cy="228.2" r="6.6" fill="#721c6e" fill-opacity="0.5"/>
<circle cx="62.0" cy="235.5" r="6.6" fill="#fbbb68" fill-opacity="0.5"/>
<circle cx="59.1" cy="245.0" r="6.0" fill="#721c6e" fill-opacity="0.5"/>
<circle cx="62.3" cy="244.3" r="4.5" fill="#721c6e" fill-opacity="0.5"/>
<circle cx="73.0" cy="248.0" r="4.5" fill="#721c6e" fill-opacity="0.5"/>
<circle cx="62.8" cy="256.7" r="4.5" fill="#721c6e" fill-opacity="0.5"/>
<circle cx="64.7" cy="254.9" r="4.0" fill="#721c6e" fill-opacity="0.5"/>
<circle cx="96.2" cy="252.5" r="6.5" fill="#fbbb68" fill-opacity="0.5"/>
<circle cx="98.5" cy="258.4" r="7.0" fill="#fbbb68" fill-opacity="0.5"/>
<circle cx="100.9" cy="264.2" r="6.5" fill="#fbbb68" fill-opacity="0.5"/>
<circle cx="113.7" cy="254.9" r="5.0" fill="#fbbb68" fill-opacity="0.5"/>
<circle cx="132.4" cy="253.1" r="4.5" fill="#fbbb68" fill-opacity="0.5"/>
<circle cx="90.5" cy="274.9" r="6.5" fill="#fbbb68" fill-opacity="0.5"/>
<circle cx="88.6" cy="271.5" r="4.5" fill="#721c6e" fill-opacity="0.5"/>
<circle cx="103.8" cy="274.7" r="5.0" fill="#fbbb68" fill-opacity="0.5"/>
<circle cx="100.6" cy="296.0" r="8.5" fill="#fbbb68" fill-opacity="0.5"/>
<circle cx="115.9" cy="295.3" r="8.5" fill="#fbbb68" fill-opacity="0.5"/>
<circle cx="125.4" cy="276.5" r="6.0" fill="#721c6e" fill-opacity="0.5"/>
<circle cx="78.1" cy="280.5" r="4.0" fill="#721c6e" fill-opacity="0.5"/>
<circle cx="99.7" cy="280.5" r="5.5" fill="#721c6e" fill-opacity="0.5"/>
<circle cx="107.9" cy="281.7" r="5.5" fill="#721c6e" fill-opacity="0.5"/>
<circle cx="92.7" cy="285.2" r="3.0" fill="#721c6e" fill-opacity="0.5"/>
<circle cx="107.9" cy="288.7" r="7.0" fill="#721c6e" fill-opacity="0.5"/>
<circle cx="81.0" cy="292.2" r="4.2" fill="#721c6e" fill-opacity="0.5"/>
<circle cx="62.2" cy="294.6" r="8.5" fill="#721c6e" fill-opacity="0.5"/>
<circle cx="113.0" cy="326.0" r="7.5" fill="#721c6e" fill-opacity="0.5"/>
<circle cx="135.6" cy="318.2" r="3.5" fill="#721c6e" fill-opacity="0.5"/>
<circle cx="148.3" cy="335.7" r="4.5" fill="#fbbb68" fill-opacity="0.5"/>
<circle cx="139.8" cy="348.1" r="4.0" fill="#721c6e" fill-opacity="0.5"/>
<circle cx="134.0" cy="366.4" r="3.3" fill="#721c6e" fill-opacity="0.5"/>
<circle cx="165.5" cy="250.8" r="6.0" fill="#9ec5fb" fill-opacity="0.5"/>
<circle cx="167.7" cy="253.0" r="7.0" fill="#9ec5fb" fill-opacity="0.5"/>
<circle cx="166.3" cy="261.8" r="6.0" fill="#9ec5fb" fill-opacity="0.5"/>
<circle cx="164.0" cy="269.0" r="5.5" fill="#9ec5fb" fill-opacity="0.5"/>
<circle cx="165.5" cy="273.5" r="4.0" fill="#9ec5fb" fill-opacity="0.5"/>
<circle cx="154.6" cy="270.6" r="3.0" fill="#721c6e" fill-opacity="0.5"/>
<circle cx="156.0" cy="273.5" r="3.0" fill="#721c6e" fill-opacity="0.5"/>
<circle cx="153.9" cy="277.1" r="3.5" fill="#721c6e" fill-opacity="0.5"/>
<circle cx="160.4" cy="277.9" r="3.0" fill="#721c6e" fill-opacity="0.5"/>
<circle cx="155.1" cy="289.7" r="8.0" fill="#9ec5fb" fill-opacity="0.5"/>
<circle cx="155.1" cy="289.7" r="3.5" fill="#721c6e" fill-opacity="0.5"/>
<circle cx="155.1" cy="307.2" r="8.5" fill="#9ec5fb" fill-opacity="0.5"/>
<circle cx="157.3" cy="308.7" r="4.0" fill="#fbbb68" fill-opacity="0.5"/>
<circle cx="141.3" cy="291.2" r="4.0" fill="#fbbb68" fill-opacity="0.5"/>
<circle cx="138.4" cy="291.9" r="3.0" fill="#721c6e" fill-opacity="0.5"/>
<circle cx="155.1" cy="256.7" r="7.0" fill="#fbbb68" fill-opacity="0.5"/>
<circle cx="144.0" cy="255.4" r="5.5" fill="#fbbb68" fill-opacity="0.5"/>
<circle cx="155.1" cy="264.6" r="4.0" fill="#fbbb68" fill-opacity="0.5"/>
<circle cx="155.1" cy="264.6" r="4.0" fill="#721c6e" fill-opacity="0.3"/>
<circle cx="165.0" cy="258.0" r="7.0" fill="#9ec5fb" fill-opacity="0.5"/>
<circle cx="166.0" cy="266.0" r="6.5" fill="#9ec5fb" fill-opacity="0.5"/>
<circle cx="164.0" cy="250.0" r="6.0" fill="#9ec5fb" fill-opacity="0.5"/>
</g>
<line x1="136.9" y1="268.5" x2="97.74" y2="242.73" stroke="#222" stroke-width="0.9"/>
<polygon points="93.90,240.20 98.79,241.14 96.70,244.32" fill="#222"/>
<line x1="136.9" y1="268.5" x2="125.09" y2="253.05" stroke="#222" stroke-width="0.9"/>
<polygon points="122.30,249.40 126.60,251.90 123.58,254.21" fill="#222"/>
<line x1="136.9" y1="268.5" x2="150.09" y2="233.31" stroke="#222" stroke-width="0.9"/>
<polygon points="151.70,229.00 151.87,233.97 148.31,232.64" fill="#222"/>
<line x1="136.9" y1="268.5" x2="151.88" y2="254.98" stroke="#222" stroke-width="0.9"/>
<polygon points="155.30,251.90 153.16,256.39 150.61,253.57" fill="#222"/>
<line x1="136.9" y1="268.5" x2="170.23" y2="250.85" stroke="#222" stroke-width="0.9"/>
<polygon points="174.30,248.70 171.12,252.53 169.35,249.17" fill="#222"/>
<line x1="136.9" y1="268.5" x2="159.65" y2="259.15" stroke="#222" stroke-width="0.9"/>
<polygon points="163.90,257.40 160.37,260.91 158.92,257.39" fill="#222"/>
<line x1="136.9" y1="268.5" x2="182.10" y2="266.41" stroke="#222" stroke-width="0.9"/>
<polygon points="186.70,266.20 182.19,268.31 182.02,264.51" fill="#222"/>
<line x1="136.9" y1="268.5" x2="97.55" y2="258.26" stroke="#222" stroke-width="0.9"/>
<polygon points="93.10,257.10 98.03,256.42 97.07,260.10" fill="#222"/>
<line x1="136.9" y1="268.5" x2="91.20" y2="267.41" stroke="#222" stroke-width="0.9"/>
<polygon points="86.60,267.30 91.24,265.51 91.15,269.31" fill="#222"/>
<line x1="136.9" y1="268.5" x2="163.13" y2="285.32" stroke="#222" stroke-width="0.9"/>
<polygon points="167.00,287.80 162.10,286.92 164.15,283.72" fill="#222"/>
<line x1="136.9" y1="268.5" x2="153.81" y2="288.21" stroke="#222" stroke-width="0.9"/>
<polygon points="156.80,291.70 152.36,289.45 155.25,286.97" fill="#222"/>
<line x1="136.9" y1="268.5" x2="144.98" y2="293.33" stroke="#222" stroke-width="0.9"/>
<polygon points="146.40,297.70 143.17,293.91 146.78,292.74" fill="#222"/>
<line x1="136.9" y1="268.5" x2="139.42" y2="288.44" stroke="#222" stroke-width="0.9"/>
<polygon points="140.00,293.00 137.54,288.67 141.31,288.20" fill="#222"/>
<line x1="136.9" y1="268.5" x2="77.40" y2="250.34" stroke="#448a94" stroke-width="0.9"/>
<polygon points="73.00,249.00 77.95,248.53 76.85,252.16" fill="#448a94"/>
<line x1="136.9" y1="268.5" x2="196.28" y2="246.59" stroke="#448a94" stroke-width="0.9"/>
<polygon points="200.60,245.00 196.94,248.37 195.63,244.81" fill="#448a94"/>
<line x1="136.9" y1="268.5" x2="117.59" y2="300.17" stroke="#448a94" stroke-width="0.9"/>
<polygon points="115.20,304.10 115.97,299.18 119.22,301.16" fill="#448a94"/>
<line x1="136.9" y1="268.5" x2="125.56" y2="328.08" stroke="#448a94" stroke-width="0.9"/>
<polygon points="124.70,332.60 123.69,327.73 127.43,328.44" fill="#448a94"/>
<line x1="136.9" y1="268.5" x2="138.34" y2="370.50" stroke="#448a94" stroke-width="0.9"/>
<polygon points="138.40,375.10 136.44,370.53 140.24,370.47" fill="#448a94"/>
<polygon points="164.80,248.20 166.04,250.99 169.08,251.31 166.81,253.35 167.45,256.34 164.80,254.81 162.15,256.34 162.79,253.35 160.52,251.31 163.56,250.99" fill="#000"/>
<text x="50.4" y="237.0" font-size="9.3" font-weight="bold" fill="#111111" stroke="#111111" stroke-width="0.08" textLength="54.1" lengthAdjust="spacingAndGlyphs">acetic acid</text>
<text x="98.5" y="247.3" font-size="9.3" font-weight="bold" fill="#111111" stroke="#111111" stroke-width="0.08" textLength="41.5" lengthAdjust="spacingAndGlyphs">fructose</text>
<text x="147.0" y="226.8" font-size="9.3" font-weight="bold" fill="#111111" stroke="#111111" stroke-width="0.08" textLength="38.3" lengthAdjust="spacingAndGlyphs">glucose</text>
<text x="141.5" y="245.0" font-size="9.3" font-weight="bold" fill="#111111" stroke="#111111" stroke-width="0.08" textLength="39.4" lengthAdjust="spacingAndGlyphs">maltose</text>
<text x="179.4" y="253.8" font-size="9.3" font-weight="bold" fill="#111111" stroke="#111111" stroke-width="0.08" textLength="46.4" lengthAdjust="spacingAndGlyphs">LAB CFUs</text>
<text x="154.6" y="260.3" font-size="9.3" font-weight="bold" fill="#111111" stroke="#111111" stroke-width="0.08" textLength="37.7" lengthAdjust="spacingAndGlyphs">sucrose</text>
<text x="188.2" y="268.4" font-size="9.3" font-weight="bold" fill="#111111" stroke="#111111" stroke-width="0.08" textLength="54.8" lengthAdjust="spacingAndGlyphs">yeast CFUs</text>
<text x="76.9" y="260.1" font-size="9.3" font-weight="bold" fill="#111111" stroke="#111111" stroke-width="0.08" textLength="12.3" lengthAdjust="spacingAndGlyphs">pH</text>
<text x="67.0" y="271.2" font-size="9.3" font-weight="bold" fill="#111111" stroke="#111111" stroke-width="0.08" textLength="15.8" lengthAdjust="spacingAndGlyphs">TTA</text>
<text x="171.4" y="288.4" font-size="9.3" font-weight="bold" fill="#111111" stroke="#111111" stroke-width="0.08" textLength="44.2" lengthAdjust="spacingAndGlyphs">mannitol</text>
<text x="161.9" y="296.1" font-size="9.3" font-weight="bold" fill="#111111" stroke="#111111" stroke-width="0.08" textLength="38.0" lengthAdjust="spacingAndGlyphs">ethanol</text>
<text x="139.1" y="303.6" font-size="9.3" font-weight="bold" fill="#111111" stroke="#111111" stroke-width="0.08" textLength="51.8" lengthAdjust="spacingAndGlyphs">lactic acid</text>
<text x="161.9" y="238.4" font-size="9.3" font-weight="bold" font-style="italic" fill="#448a94" stroke="#448a94" stroke-width="0.08" textLength="96.1" lengthAdjust="spacingAndGlyphs">F. sanfranciscensis</text>
<text x="5.8" y="254.5" font-size="9.3" font-weight="bold" font-style="italic" fill="#448a94" stroke="#448a94" stroke-width="0.08" textLength="67.2" lengthAdjust="spacingAndGlyphs">A. cerevisiae|</text>
<text x="19.0" y="260.3" font-size="9.3" font-weight="bold" font-style="italic" fill="#448a94" stroke="#448a94" stroke-width="0.08" textLength="43.0" lengthAdjust="spacingAndGlyphs">malorum</text>
<text x="81.6" y="310.7" font-size="9.3" font-weight="bold" font-style="italic" fill="#448a94" stroke="#448a94" stroke-width="0.08" textLength="51.8" lengthAdjust="spacingAndGlyphs">P. parvulus</text>
<text x="94.7" y="342.0" font-size="9.3" font-weight="bold" font-style="italic" fill="#448a94" stroke="#448a94" stroke-width="0.08" textLength="41.7" lengthAdjust="spacingAndGlyphs">L. brevis</text>
<text x="116.2" y="380.2" font-size="9.3" font-weight="bold" font-style="italic" fill="#448a94" stroke="#448a94" stroke-width="0.08" textLength="47.0" lengthAdjust="spacingAndGlyphs">F. rossiae</text>
<clipPath id="cb2"><rect x="280.5" y="221.5" width="165.2" height="163.8"/></clipPath><g clip-path="url(#cb2)">
<circle cx="287.4" cy="231.5" r="6.5" fill="#721c6e" fill-opacity="0.5"/>
<circle cx="288.1" cy="228.4" r="6.5" fill="#721c6e" fill-opacity="0.5"/>
<circle cx="299.2" cy="235.9" r="6.3" fill="#721c6e" fill-opacity="0.5"/>
<circle cx="298.6" cy="242.7" r="5.0" fill="#721c6e" fill-opacity="0.5"/>
<circle cx="301.1" cy="250.2" r="4.5" fill="#721c6e" fill-opacity="0.5"/>
<circle cx="306.0" cy="252.6" r="7.5" fill="#fbbb68" fill-opacity="0.5"/>
<circle cx="312.6" cy="249.5" r="4.3" fill="#721c6e" fill-opacity="0.5"/>
<circle cx="300.8" cy="258.0" r="5.0" fill="#721c6e" fill-opacity="0.5"/>
<circle cx="320.3" cy="259.2" r="4.6" fill="#721c6e" fill-opacity="0.5"/>
<circle cx="342.0" cy="257.4" r="6.0" fill="#fbbb68" fill-opacity="0.5"/>
<circle cx="352.2" cy="257.4" r="6.0" fill="#fbbb68" fill-opacity="0.5"/>
<circle cx="358.2" cy="268.8" r="7.5" fill="#fbbb68" fill-opacity="0.5"/>
<circle cx="360.6" cy="266.3" r="5.0" fill="#fbbb68" fill-opacity="0.5"/>
<circle cx="363.7" cy="257.6" r="5.0" fill="#fbbb68" fill-opacity="0.5"/>
<circle cx="367.5" cy="257.4" r="5.5" fill="#fbbb68" fill-opacity="0.5"/>
<circle cx="337.7" cy="274.1" r="4.5" fill="#721c6e" fill-opacity="0.5"/>
<circle cx="333.6" cy="281.8" r="3.4" fill="#721c6e" fill-opacity="0.5"/>
<circle cx="341.4" cy="286.8" r="6.2" fill="#fbbb68" fill-opacity="0.5"/>
<circle cx="347.6" cy="283.0" r="5.4" fill="#721c6e" fill-opacity="0.5"/>
<circle cx="358.8" cy="282.4" r="4.5" fill="#fbbb68" fill-opacity="0.5"/>
<circle cx="321.6" cy="291.5" r="4.0" fill="#721c6e" fill-opacity="0.5"/>
<circle cx="365.6" cy="279.4" r="4.0" fill="#721c6e" fill-opacity="0.5"/>
<circle cx="350.7" cy="306.8" r="8.5" fill="#fbbb68" fill-opacity="0.5"/>
<circle cx="366.9" cy="302.5" r="8.5" fill="#fbbb68" fill-opacity="0.5"/>
<circle cx="360.0" cy="296.0" r="7.0" fill="#721c6e" fill-opacity="0.5"/>
<circle cx="382.0" cy="284.4" r="6.2" fill="#721c6e" fill-opacity="0.5"/>
<circle cx="383.2" cy="262.4" r="4.5" fill="#fbbb68" fill-opacity="0.5"/>
<circle cx="392.6" cy="261.2" r="4.4" fill="#fbbb68" fill-opacity="0.5"/>
<circle cx="396.4" cy="256.8" r="4.0" fill="#fbbb68" fill-opacity="0.5"/>
<circle cx="405.4" cy="267.5" r="4.5" fill="#fbbb68" fill-opacity="0.5"/>
<circle cx="420.3" cy="265.6" r="7.5" fill="#fbbb68" fill-opacity="0.5"/>
<circle cx="422.1" cy="262.4" r="5.0" fill="#fbbb68" fill-opacity="0.5"/>
<circle cx="436.0" cy="251.8" r="7.0" fill="#9ec5fb" fill-opacity="0.5"/>
<circle cx="435.3" cy="254.9" r="7.0" fill="#9ec5fb" fill-opacity="0.5"/>
<circle cx="433.4" cy="269.3" r="7.0" fill="#9ec5fb" fill-opacity="0.5"/>
<circle cx="432.8" cy="272.5" r="6.0" fill="#9ec5fb" fill-opacity="0.5"/>
<circle cx="434.0" cy="262.0" r="6.5" fill="#9ec5fb" fill-opacity="0.5"/>
<circle cx="422.8" cy="270.6" r="3.7" fill="#721c6e" fill-opacity="0.5"/>
<circle cx="422.5" cy="276.2" r="3.5" fill="#721c6e" fill-opacity="0.5"/>
<circle cx="428.4" cy="276.2" r="2.5" fill="#721c6e" fill-opacity="0.5"/>
<circle cx="430.0" cy="284.0" r="3.7" fill="#9ec5fb" fill-opacity="0.5"/>
<circle cx="415.2" cy="293.2" r="4.0" fill="#721c6e" fill-opacity="0.5"/>
<circle cx="420.0" cy="290.0" r="3.0" fill="#721c6e" fill-opacity="0.5"/>
<circle cx="424.0" cy="294.4" r="8.5" fill="#9ec5fb" fill-opacity="0.5"/>
<circle cx="424.0" cy="307.2" r="8.5" fill="#9ec5fb" fill-opacity="0.5"/>
<circle cx="394.9" cy="300.3" r="3.0" fill="#721c6e" fill-opacity="0.5"/>
<circle cx="399.5" cy="306.9" r="4.0" fill="#fbbb68" fill-opacity="0.5"/>
<circle cx="404.6" cy="304.0" r="3.8" fill="#fbbb68" fill-opacity="0.5"/>
<circle cx="391.8" cy="320.5" r="3.8" fill="#721c6e" fill-opacity="0.5"/>
<circle cx="422.4" cy="313.2" r="2.5" fill="#721c6e" fill-opacity="0.5"/>
<circle cx="425.9" cy="313.8" r="3.5" fill="#fbbb68" fill-opacity="0.5"/>
<circle cx="421.9" cy="325.1" r="3.3" fill="#fbbb68" fill-opacity="0.5"/>
<circle cx="414.4" cy="344.6" r="4.6" fill="#fbbb68" fill-opacity="0.5"/>
<circle cx="375.7" cy="348.4" r="7.5" fill="#721c6e" fill-opacity="0.5"/>
<circle cx="403.9" cy="359.0" r="4.0" fill="#721c6e" fill-opacity="0.5"/>
<circle cx="396.2" cy="377.9" r="3.4" fill="#721c6e" fill-opacity="0.5"/>
<circle cx="300.5" cy="315.5" r="8.7" fill="#721c6e" fill-opacity="0.5"/>
<circle cx="315.0" cy="309.3" r="4.4" fill="#721c6e" fill-opacity="0.5"/>
</g>
<polygon points="431.60,255.20 432.84,257.99 435.88,258.31 433.61,260.35 434.25,263.34 431.60,261.81 428.95,263.34 429.59,260.35 427.32,258.31 430.36,257.99" fill="#000"/>
<clipPath id="cb3"><rect x="519.6" y="222.6" width="164.39999999999998" height="163.4"/></clipPath><g clip-path="url(#cb3)">
<circle cx="529.2" cy="229.7" r="6.0" fill="#721c6e" fill-opacity="0.5"/>
<circle cx="527.1" cy="236.3" r="7.5" fill="#721c6e" fill-opacity="0.5"/>
<circle cx="539.5" cy="235.6" r="7.5" fill="#fbbb68" fill-opacity="0.5"/>
<circle cx="538.2" cy="257.4" r="6.0" fill="#721c6e" fill-opacity="0.5"/>
<circle cx="540.7" cy="258.0" r="5.0" fill="#721c6e" fill-opacity="0.5"/>
<circle cx="541.2" cy="258.5" r="4.0" fill="#721c6e" fill-opacity="0.3"/>
<circle cx="554.6" cy="255.5" r="4.4" fill="#721c6e" fill-opacity="0.5"/>
<circle cx="543.6" cy="273.9" r="5.5" fill="#721c6e" fill-opacity="0.5"/>
<circle cx="559.7" cy="276.6" r="4.6" fill="#721c6e" fill-opacity="0.5"/>
<circle cx="576.7" cy="252.4" r="6.0" fill="#fbbb68" fill-opacity="0.5"/>
<circle cx="581.7" cy="248.7" r="6.0" fill="#fbbb68" fill-opacity="0.5"/>
<circle cx="585.4" cy="253.6" r="4.0" fill="#fbbb68" fill-opacity="0.5"/>
<circle cx="585.4" cy="262.9" r="5.5" fill="#fbbb68" fill-opacity="0.5"/>
<circle cx="594.4" cy="269.8" r="7.5" fill="#fbbb68" fill-opacity="0.5"/>
<circle cx="592.2" cy="275.3" r="4.7" fill="#fbbb68" fill-opacity="0.5"/>
<circle cx="601.5" cy="250.5" r="5.0" fill="#fbbb68" fill-opacity="0.5"/>
<circle cx="577.0" cy="276.6" r="6.2" fill="#fbbb68" fill-opacity="0.5"/>
<circle cx="576.1" cy="290.9" r="4.6" fill="#721c6e" fill-opacity="0.5"/>
<circle cx="589.3" cy="290.9" r="5.5" fill="#721c6e" fill-opacity="0.5"/>
<circle cx="600.9" cy="289.0" r="4.4" fill="#721c6e" fill-opacity="0.5"/>
<circle cx="622.3" cy="251.2" r="4.5" fill="#fbbb68" fill-opacity="0.5"/>
<circle cx="626.7" cy="250.8" r="4.5" fill="#fbbb68" fill-opacity="0.5"/>
<circle cx="642.4" cy="257.4" r="4.5" fill="#fbbb68" fill-opacity="0.5"/>
<circle cx="654.0" cy="259.2" r="4.0" fill="#fbbb68" fill-opacity="0.5"/>
<circle cx="657.7" cy="266.0" r="5.5" fill="#fbbb68" fill-opacity="0.5"/>
<circle cx="663.3" cy="264.2" r="7.0" fill="#fbbb68" fill-opacity="0.5"/>
<circle cx="674.4" cy="253.6" r="6.5" fill="#9ec5fb" fill-opacity="0.5"/>
<circle cx="673.2" cy="267.3" r="8.0" fill="#9ec5fb" fill-opacity="0.5"/>
<circle cx="671.3" cy="272.9" r="6.0" fill="#9ec5fb" fill-opacity="0.5"/>
<circle cx="671.3" cy="279.1" r="3.5" fill="#9ec5fb" fill-opacity="0.5"/>
<circle cx="673.5" cy="258.0" r="6.5" fill="#9ec5fb" fill-opacity="0.5"/>
<circle cx="672.0" cy="264.0" r="6.0" fill="#9ec5fb" fill-opacity="0.5"/>
<circle cx="662.9" cy="280.3" r="3.8" fill="#721c6e" fill-opacity="0.5"/>
<circle cx="660.2" cy="286.5" r="3.0" fill="#721c6e" fill-opacity="0.5"/>
<circle cx="664.5" cy="289.6" r="3.8" fill="#721c6e" fill-opacity="0.5"/>
<circle cx="669.9" cy="285.3" r="2.5" fill="#721c6e" fill-opacity="0.5"/>
<circle cx="622.3" cy="285.0" r="6.3" fill="#721c6e" fill-opacity="0.5"/>
<circle cx="592.2" cy="306.2" r="8.0" fill="#fbbb68" fill-opacity="0.5"/>
<circle cx="610.9" cy="304.9" r="8.5" fill="#fbbb68" fill-opacity="0.5"/>
<circle cx="583.5" cy="307.4" r="3.5" fill="#721c6e" fill-opacity="0.5"/>
<circle cx="602.6" cy="313.6" r="7.3" fill="#721c6e" fill-opacity="0.5"/>
<circle cx="644.3" cy="301.5" r="4.0" fill="#fbbb68" fill-opacity="0.5"/>
<circle cx="646.9" cy="308.0" r="3.8" fill="#fbbb68" fill-opacity="0.5"/>
<circle cx="643.4" cy="313.9" r="3.0" fill="#721c6e" fill-opacity="0.5"/>
<circle cx="664.5" cy="300.0" r="8.5" fill="#9ec5fb" fill-opacity="0.5"/>
<circle cx="666.4" cy="297.5" r="3.0" fill="#721c6e" fill-opacity="0.5"/>
<circle cx="665.8" cy="314.9" r="8.5" fill="#9ec5fb" fill-opacity="0.5"/>
<circle cx="666.4" cy="311.7" r="4.0" fill="#721c6e" fill-opacity="0.5"/>
<circle cx="664.5" cy="314.2" r="2.5" fill="#721c6e" fill-opacity="0.5"/>
<circle cx="668.9" cy="315.5" r="3.3" fill="#fbbb68" fill-opacity="0.5"/>
<circle cx="666.4" cy="319.2" r="3.8" fill="#fbbb68" fill-opacity="0.5"/>
<circle cx="566.5" cy="310.1" r="4.2" fill="#721c6e" fill-opacity="0.5"/>
<circle cx="570.7" cy="319.2" r="4.3" fill="#721c6e" fill-opacity="0.5"/>
<circle cx="550.3" cy="324.4" r="8.6" fill="#721c6e" fill-opacity="0.5"/>
<circle cx="644.4" cy="340.5" r="3.8" fill="#721c6e" fill-opacity="0.5"/>
<circle cx="662.7" cy="342.4" r="4.5" fill="#fbbb68" fill-opacity="0.5"/>
<circle cx="630.4" cy="359.3" r="7.5" fill="#721c6e" fill-opacity="0.5"/>
<circle cx="657.9" cy="359.8" r="4.0" fill="#721c6e" fill-opacity="0.5"/>
<circle cx="658.3" cy="378.5" r="3.4" fill="#721c6e" fill-opacity="0.5"/>
</g>
<polygon points="674.20,253.70 675.44,256.49 678.48,256.81 676.21,258.85 676.85,261.84 674.20,260.31 671.55,261.84 672.19,258.85 669.92,256.81 672.96,256.49" fill="#000"/>
<clipPath id="cc1"><rect x="43.8" y="427.1" width="164.7" height="163.29999999999995"/></clipPath><g clip-path="url(#cc1)">
<circle cx="166.6" cy="433.8" r="8.5" fill="#fbbb68" fill-opacity="0.5"/>
<circle cx="146.7" cy="444.4" r="7.5" fill="#fbbb68" fill-opacity="0.5"/>
<circle cx="141.1" cy="446.9" r="6.0" fill="#c0c8d0" fill-opacity="0.6"/>
<circle cx="129.5" cy="448.1" r="7.0" fill="#721c6e" fill-opacity="0.5"/>
<circle cx="135.7" cy="448.1" r="7.0" fill="#9ec5fb" fill-opacity="0.5"/>
<circle cx="135.7" cy="448.1" r="6.0" fill="#721c6e" fill-opacity="0.3"/>
<circle cx="124.5" cy="446.9" r="5.0" fill="#9ec5fb" fill-opacity="0.5"/>
<circle cx="133.2" cy="443.1" r="5.0" fill="#721c6e" fill-opacity="0.3"/>
<circle cx="141.9" cy="440.6" r="6.0" fill="#fbbb68" fill-opacity="0.5"/>
<circle cx="157.9" cy="455.5" r="8.5" fill="#9ec5fb" fill-opacity="0.5"/>
<circle cx="143.6" cy="455.5" r="4.0" fill="#721c6e" fill-opacity="0.5"/>
<circle cx="181.1" cy="451.2" r="6.0" fill="#721c6e" fill-opacity="0.5"/>
<circle cx="179.6" cy="458.6" r="6.5" fill="#fbbb68" fill-opacity="0.5"/>
<circle cx="167.8" cy="463.6" r="5.0" fill="#721c6e" fill-opacity="0.5"/>
<circle cx="152.9" cy="466.7" r="2.0" fill="#721c6e" fill-opacity="0.5"/>
<circle cx="160.4" cy="471.0" r="7.5" fill="#fbbb68" fill-opacity="0.5"/>
<circle cx="158.5" cy="476.0" r="5.5" fill="#fbbb68" fill-opacity="0.5"/>
<circle cx="182.7" cy="476.0" r="4.0" fill="#721c6e" fill-opacity="0.5"/>
<circle cx="134.3" cy="475.4" r="5.0" fill="#9ec5fb" fill-opacity="0.5"/>
<circle cx="140.5" cy="472.3" r="3.0" fill="#721c6e" fill-opacity="0.5"/>
<circle cx="188.9" cy="481.6" r="5.0" fill="#fbbb68" fill-opacity="0.5"/>
<circle cx="200.7" cy="481.6" r="6.0" fill="#fbbb68" fill-opacity="0.5"/>
<circle cx="147.3" cy="485.3" r="5.0" fill="#721c6e" fill-opacity="0.5"/>
<circle cx="131.2" cy="485.3" r="6.0" fill="#b8c4d4" fill-opacity="0.6"/>
<circle cx="187.0" cy="494.6" r="7.5" fill="#721c6e" fill-opacity="0.5"/>
<circle cx="200.7" cy="498.3" r="7.0" fill="#721c6e" fill-opacity="0.5"/>
<circle cx="144.2" cy="500.0" r="7.0" fill="#fbbb68" fill-opacity="0.5"/>
<circle cx="151.7" cy="500.0" r="5.0" fill="#fbbb68" fill-opacity="0.5"/>
<circle cx="151.7" cy="504.5" r="4.0" fill="#9ec5fb" fill-opacity="0.5"/>
<circle cx="107.1" cy="451.8" r="3.5" fill="#721c6e" fill-opacity="0.5"/>
<circle cx="114.6" cy="458.0" r="4.5" fill="#9ec5fb" fill-opacity="0.5"/>
<circle cx="128.9" cy="464.2" r="4.5" fill="#721c6e" fill-opacity="0.5"/>
<circle cx="135.7" cy="464.2" r="4.0" fill="#721c6e" fill-opacity="0.5"/>
<circle cx="91.0" cy="468.0" r="4.5" fill="#fbbb68" fill-opacity="0.5"/>
<circle cx="81.1" cy="468.0" r="4.5" fill="#9ec5fb" fill-opacity="0.5"/>
<circle cx="93.5" cy="477.9" r="4.0" fill="#fbbb68" fill-opacity="0.5"/>
<circle cx="86.0" cy="482.8" r="4.0" fill="#9ec5fb" fill-opacity="0.5"/>
<circle cx="104.7" cy="475.4" r="5.0" fill="#fbbb68" fill-opacity="0.5"/>
<circle cx="106.0" cy="476.0" r="3.5" fill="#721c6e" fill-opacity="0.4"/>
<circle cx="123.3" cy="480.3" r="4.5" fill="#721c6e" fill-opacity="0.5"/>
<circle cx="109.6" cy="484.1" r="6.0" fill="#9ec5fb" fill-opacity="0.5"/>
<circle cx="132.0" cy="484.1" r="6.0" fill="#9ec5fb" fill-opacity="0.5"/>
<circle cx="118.3" cy="484.1" r="4.0" fill="#fbbb68" fill-opacity="0.5"/>
<circle cx="120.8" cy="498.3" r="4.5" fill="#fbbb68" fill-opacity="0.5"/>
<circle cx="81.1" cy="495.9" r="5.0" fill="#721c6e" fill-opacity="0.5"/>
<circle cx="83.6" cy="494.6" r="4.0" fill="#721c6e" fill-opacity="0.5"/>
<circle cx="90.4" cy="492.8" r="4.0" fill="#fbbb68" fill-opacity="0.5"/>
<circle cx="88.5" cy="501.4" r="4.5" fill="#9ec5fb" fill-opacity="0.5"/>
<circle cx="66.4" cy="489.8" r="3.0" fill="#721c6e" fill-opacity="0.5"/>
<circle cx="73.6" cy="489.7" r="3.5" fill="#fbbb68" fill-opacity="0.5"/>
<circle cx="72.9" cy="474.3" r="4.0" fill="#fbbb68" fill-opacity="0.5"/>
<circle cx="83.4" cy="483.5" r="4.5" fill="#9ec5fb" fill-opacity="0.5"/>
<circle cx="87.3" cy="507.6" r="3.0" fill="#721c6e" fill-opacity="0.5"/>
<circle cx="102.8" cy="508.3" r="3.0" fill="#fbbb68" fill-opacity="0.5"/>
<circle cx="95.8" cy="509.9" r="4.0" fill="#9ec5fb" fill-opacity="0.5"/>
<circle cx="113.6" cy="517.4" r="4.0" fill="#fbbb68" fill-opacity="0.5"/>
<circle cx="74.1" cy="509.9" r="3.5" fill="#9ec5fb" fill-opacity="0.5"/>
<circle cx="136.4" cy="517.1" r="5.3" fill="#721c6e" fill-opacity="0.5"/>
<circle cx="162.3" cy="509.5" r="2.5" fill="#721c6e" fill-opacity="0.5"/>
<circle cx="170.3" cy="510.2" r="4.4" fill="#fbbb68" fill-opacity="0.5"/>
<circle cx="152.2" cy="504.6" r="4.0" fill="#b8c4d4" fill-opacity="0.6"/>
<circle cx="182.4" cy="526.3" r="2.5" fill="#9ec5fb" fill-opacity="0.5"/>
<circle cx="183.3" cy="534.2" r="6.3" fill="#721c6e" fill-opacity="0.5"/>
<circle cx="201.2" cy="582.8" r="7.5" fill="#721c6e" fill-opacity="0.5"/>
<circle cx="109.1" cy="453.9" r="6.0" fill="#9ec5fb" fill-opacity="0.5"/>
<circle cx="114.2" cy="458.2" r="3.5" fill="#fbbb68" fill-opacity="0.5"/>
<circle cx="115.7" cy="469.2" r="6.0" fill="#9ec5fb" fill-opacity="0.5"/>
<circle cx="104.0" cy="470.7" r="5.0" fill="#721c6e" fill-opacity="0.35"/>
<circle cx="92.3" cy="475.0" r="5.0" fill="#fbbb68" fill-opacity="0.5"/>
<circle cx="106.2" cy="483.8" r="7.0" fill="#b8c8e0" fill-opacity="0.6"/>
<circle cx="125.1" cy="478.0" r="5.0" fill="#721c6e" fill-opacity="0.4"/>
<circle cx="96.7" cy="481.6" r="5.0" fill="#9ec5fb" fill-opacity="0.5"/>
<circle cx="133.2" cy="486.7" r="5.0" fill="#b8c0c8" fill-opacity="0.5"/>
</g>
<line x1="124.4" y1="480.6" x2="84.57" y2="459.55" stroke="#222" stroke-width="0.9"/>
<polygon points="80.50,457.40 85.45,457.87 83.68,461.23" fill="#222"/>
<line x1="124.4" y1="480.6" x2="99.91" y2="465.42" stroke="#222" stroke-width="0.9"/>
<polygon points="96.00,463.00 100.91,463.81 98.91,467.04" fill="#222"/>
<line x1="124.4" y1="480.6" x2="114.10" y2="470.00" stroke="#222" stroke-width="0.9"/>
<polygon points="110.90,466.70 115.47,468.68 112.74,471.32" fill="#222"/>
<line x1="124.4" y1="480.6" x2="71.82" y2="465.47" stroke="#222" stroke-width="0.9"/>
<polygon points="67.40,464.20 72.35,463.65 71.30,467.30" fill="#222"/>
<line x1="124.4" y1="480.6" x2="106.91" y2="471.86" stroke="#222" stroke-width="0.9"/>
<polygon points="102.80,469.80 107.76,470.16 106.06,473.56" fill="#222"/>
<line x1="124.4" y1="480.6" x2="92.50" y2="480.34" stroke="#222" stroke-width="0.9"/>
<polygon points="87.90,480.30 92.52,478.44 92.48,482.24" fill="#222"/>
<line x1="124.4" y1="480.6" x2="175.68" y2="470.67" stroke="#222" stroke-width="0.9"/>
<polygon points="180.20,469.80 176.04,472.54 175.32,468.81" fill="#222"/>
<line x1="124.4" y1="480.6" x2="175.05" y2="487.76" stroke="#222" stroke-width="0.9"/>
<polygon points="179.60,488.40 174.78,489.64 175.31,485.88" fill="#222"/>
<line x1="124.4" y1="480.6" x2="159.68" y2="490.82" stroke="#222" stroke-width="0.9"/>
<polygon points="164.10,492.10 159.15,492.65 160.21,489.00" fill="#222"/>
<line x1="124.4" y1="480.6" x2="152.22" y2="507.97" stroke="#222" stroke-width="0.9"/>
<polygon points="155.50,511.20 150.89,509.33 153.55,506.62" fill="#222"/>
<line x1="124.4" y1="480.6" x2="80.25" y2="444.23" stroke="#448a94" stroke-width="0.9"/>
<polygon points="76.70,441.30 81.46,442.76 79.04,445.69" fill="#448a94"/>
<line x1="124.4" y1="480.6" x2="191.15" y2="470.49" stroke="#448a94" stroke-width="0.9"/>
<polygon points="195.70,469.80 191.44,472.37 190.87,468.61" fill="#448a94"/>
<line x1="124.4" y1="480.6" x2="55.60" y2="501.75" stroke="#448a94" stroke-width="0.9"/>
<polygon points="51.20,503.10 55.04,499.93 56.16,503.56" fill="#448a94"/>
<line x1="124.4" y1="480.6" x2="70.82" y2="507.25" stroke="#448a94" stroke-width="0.9"/>
<polygon points="66.70,509.30 69.97,505.55 71.66,508.95" fill="#448a94"/>
<line x1="124.4" y1="480.6" x2="149.43" y2="530.29" stroke="#448a94" stroke-width="0.9"/>
<polygon points="151.50,534.40 147.73,531.15 151.13,529.44" fill="#448a94"/>
<text x="21.7" y="435.2" font-size="9.3" font-weight="bold" font-style="italic" fill="#448a94" stroke="#448a94" stroke-width="0.08" textLength="99.1" lengthAdjust="spacingAndGlyphs">Alternaria sp. ssg. 2</text>
<text x="38.4" y="456.59999999999997" font-size="9.3" font-weight="bold" fill="#111111" stroke="#111111" stroke-width="0.08" textLength="45.6" lengthAdjust="spacingAndGlyphs">mannitol</text>
<text x="87.3" y="456.5" font-size="9.3" font-weight="bold" fill="#111111" stroke="#111111" stroke-width="0.08" textLength="37.2" lengthAdjust="spacingAndGlyphs">ethanol</text>
<text x="97.8" y="464.9" font-size="9.3" font-weight="bold" fill="#111111" stroke="#111111" stroke-width="0.08" textLength="50.8" lengthAdjust="spacingAndGlyphs">lactic acid</text>
<text x="9.5" y="470.8" font-size="9.3" font-weight="bold" fill="#111111" stroke="#111111" stroke-width="0.08" textLength="55.5" lengthAdjust="spacingAndGlyphs">yeast CFUs</text>
<text x="61.2" y="474.2" font-size="9.3" font-weight="bold" fill="#111111" stroke="#111111" stroke-width="0.08" textLength="37.3" lengthAdjust="spacingAndGlyphs">sucrose</text>
<text x="37.5" y="483.9" font-size="9.3" font-weight="bold" fill="#111111" stroke="#111111" stroke-width="0.08" textLength="46.0" lengthAdjust="spacingAndGlyphs">LAB CFUs</text>
<text x="15.1" y="498.7" font-size="9.3" font-weight="bold" font-style="italic" fill="#448a94" stroke="#448a94" stroke-width="0.08" textLength="58.9" lengthAdjust="spacingAndGlyphs">A. pullulans</text>
<text x="24.2" y="519.3000000000001" font-size="9.3" font-weight="bold" font-style="italic" fill="#448a94" stroke="#448a94" stroke-width="0.08" textLength="81.6" lengthAdjust="spacingAndGlyphs">Filobasidium sp.</text>
<text x="183.3" y="468.0" font-size="9.3" font-weight="bold" fill="#111111" stroke="#111111" stroke-width="0.08" textLength="16.1" lengthAdjust="spacingAndGlyphs">TTA</text>
<text x="177.9" y="479.59999999999997" font-size="9.3" font-weight="bold" font-style="italic" fill="#448a94" stroke="#448a94" stroke-width="0.08" textLength="63.1" lengthAdjust="spacingAndGlyphs">S. cerevisiae</text>
<text x="180.5" y="492.0" font-size="9.3" font-weight="bold" fill="#111111" stroke="#111111" stroke-width="0.08" textLength="54.0" lengthAdjust="spacingAndGlyphs">acetic acid</text>
<text x="165.9" y="499.4" font-size="9.3" font-weight="bold" fill="#111111" stroke="#111111" stroke-width="0.08" textLength="12.4" lengthAdjust="spacingAndGlyphs">pH</text>
<text x="145.2" y="522.0" font-size="9.3" font-weight="bold" fill="#111111" stroke="#111111" stroke-width="0.08" textLength="41.6" lengthAdjust="spacingAndGlyphs">fructose</text>
<text x="126.3" y="545.4000000000001" font-size="9.3" font-weight="bold" font-style="italic" fill="#448a94" stroke="#448a94" stroke-width="0.08" textLength="49.5" lengthAdjust="spacingAndGlyphs">H. uvarum</text>
<clipPath id="cc2"><rect x="281.6" y="427.5" width="164.79999999999995" height="163.10000000000002"/></clipPath><g clip-path="url(#cc2)">
<circle cx="344.3" cy="434.4" r="8.7" fill="#721c6e" fill-opacity="0.5"/>
<circle cx="330.6" cy="454.9" r="6.0" fill="#9ec5fb" fill-opacity="0.5"/>
<circle cx="312.0" cy="457.4" r="4.5" fill="#fbbb68" fill-opacity="0.5"/>
<circle cx="355.4" cy="456.2" r="8.5" fill="#9ec5fb" fill-opacity="0.5"/>
<circle cx="359.8" cy="445.6" r="3.5" fill="#721c6e" fill-opacity="0.5"/>
<circle cx="359.2" cy="449.3" r="4.5" fill="#721c6e" fill-opacity="0.5"/>
<circle cx="357.9" cy="456.8" r="4.5" fill="#721c6e" fill-opacity="0.5"/>
<circle cx="349.0" cy="458.0" r="4.0" fill="#721c6e" fill-opacity="0.5"/>
<circle cx="365.4" cy="455.5" r="6.0" fill="#fbbb68" fill-opacity="0.5"/>
<circle cx="305.2" cy="466.7" r="3.0" fill="#9ec5fb" fill-opacity="0.5"/>
<circle cx="331.9" cy="469.2" r="8.0" fill="#9ec5fb" fill-opacity="0.5"/>
<circle cx="335.6" cy="468.0" r="7.5" fill="#fbbb68" fill-opacity="0.5"/>
<circle cx="336.0" cy="468.0" r="5.0" fill="#b8b8b8" fill-opacity="0.3"/>
<circle cx="316.0" cy="469.2" r="7.0" fill="#721c6e" fill-opacity="0.5"/>
<circle cx="335.0" cy="461.7" r="3.5" fill="#721c6e" fill-opacity="0.5"/>
<circle cx="339.3" cy="470.4" r="4.5" fill="#fbbb68" fill-opacity="0.5"/>
<circle cx="341.2" cy="477.9" r="4.5" fill="#9ec5fb" fill-opacity="0.5"/>
<circle cx="344.3" cy="474.1" r="6.0" fill="#9ec5fb" fill-opacity="0.5"/>
<circle cx="350.5" cy="469.2" r="3.5" fill="#721c6e" fill-opacity="0.5"/>
<circle cx="353.0" cy="469.2" r="4.0" fill="#9ec5fb" fill-opacity="0.5"/>
<circle cx="356.7" cy="472.3" r="2.0" fill="#721c6e" fill-opacity="0.5"/>
<circle cx="353.6" cy="480.3" r="5.5" fill="#9ec5fb" fill-opacity="0.5"/>
<circle cx="304.0" cy="476.6" r="4.0" fill="#9ec5fb" fill-opacity="0.5"/>
<circle cx="306.4" cy="472.9" r="3.5" fill="#fbbb68" fill-opacity="0.5"/>
<circle cx="308.3" cy="478.5" r="2.5" fill="#fbbb68" fill-opacity="0.5"/>
<circle cx="313.9" cy="474.1" r="3.5" fill="#9ec5fb" fill-opacity="0.5"/>
<circle cx="315.7" cy="479.7" r="3.0" fill="#fbbb68" fill-opacity="0.5"/>
<circle cx="322.0" cy="476.6" r="3.5" fill="#fbbb68" fill-opacity="0.5"/>
<circle cx="326.9" cy="482.8" r="4.5" fill="#fbbb68" fill-opacity="0.5"/>
<circle cx="326.9" cy="482.8" r="3.5" fill="#b0b0b0" fill-opacity="0.3"/>
<circle cx="330.6" cy="482.8" r="4.5" fill="#9ec5fb" fill-opacity="0.5"/>
<circle cx="329.4" cy="487.8" r="4.0" fill="#721c6e" fill-opacity="0.5"/>
<circle cx="327.5" cy="490.9" r="3.0" fill="#721c6e" fill-opacity="0.5"/>
<circle cx="328.1" cy="494.6" r="3.0" fill="#fbbb68" fill-opacity="0.5"/>
<circle cx="343.0" cy="489.7" r="7.5" fill="#9ec5fb" fill-opacity="0.5"/>
<circle cx="344.3" cy="484.7" r="3.0" fill="#b0b0b0" fill-opacity="0.5"/>
<circle cx="359.2" cy="487.8" r="6.0" fill="#fbbb68" fill-opacity="0.5"/>
<circle cx="363.5" cy="487.8" r="5.0" fill="#fbbb68" fill-opacity="0.5"/>
<circle cx="353.0" cy="494.6" r="5.0" fill="#721c6e" fill-opacity="0.5"/>
<circle cx="319.5" cy="494.0" r="6.5" fill="#9ec5fb" fill-opacity="0.5"/>
<circle cx="312.0" cy="497.1" r="4.0" fill="#9ec5fb" fill-opacity="0.5"/>
<circle cx="318.8" cy="499.0" r="3.5" fill="#b8c0c8" fill-opacity="0.6"/>
<circle cx="314.5" cy="502.1" r="2.0" fill="#fbbb68" fill-opacity="0.5"/>
<circle cx="317.0" cy="502.1" r="3.0" fill="#9ec5fb" fill-opacity="0.5"/>
<circle cx="333.7" cy="500.8" r="2.0" fill="#721c6e" fill-opacity="0.5"/>
<circle cx="333.7" cy="505.2" r="5.5" fill="#9ec5fb" fill-opacity="0.5"/>
<circle cx="322.6" cy="505.2" r="2.0" fill="#b0b0b0" fill-opacity="0.5"/>
<circle cx="349.0" cy="506.4" r="2.5" fill="#fbbb68" fill-opacity="0.5"/>
<circle cx="291.5" cy="489.7" r="3.0" fill="#721c6e" fill-opacity="0.5"/>
<circle cx="291.5" cy="494.0" r="3.5" fill="#fbbb68" fill-opacity="0.5"/>
<circle cx="295.9" cy="490.9" r="3.5" fill="#fbbb68" fill-opacity="0.5"/>
<circle cx="300.0" cy="493.1" r="2.5" fill="#721c6e" fill-opacity="0.5"/>
<circle cx="291.5" cy="498.3" r="3.0" fill="#721c6e" fill-opacity="0.5"/>
<circle cx="290.9" cy="503.3" r="3.0" fill="#9ec5fb" fill-opacity="0.5"/>
<circle cx="297.1" cy="504.5" r="4.0" fill="#721c6e" fill-opacity="0.5"/>
<circle cx="289.1" cy="514.9" r="4.0" fill="#9ec5fb" fill-opacity="0.5"/>
<circle cx="304.2" cy="515.9" r="3.0" fill="#721c6e" fill-opacity="0.5"/>
<circle cx="321.0" cy="512.7" r="4.0" fill="#9ec5fb" fill-opacity="0.5"/>
<circle cx="317.8" cy="532.3" r="5.5" fill="#9ec5fb" fill-opacity="0.5"/>
<circle cx="368.5" cy="538.5" r="8.5" fill="#721c6e" fill-opacity="0.5"/>
<circle cx="376.9" cy="446.9" r="8.0" fill="#fbbb68" fill-opacity="0.5"/>
<circle cx="384.3" cy="447.5" r="8.5" fill="#fbbb68" fill-opacity="0.5"/>
<circle cx="373.2" cy="444.4" r="3.5" fill="#b8c0c8" fill-opacity="0.7"/>
<circle cx="370.1" cy="454.3" r="7.5" fill="#fbbb68" fill-opacity="0.5"/>
<circle cx="381.2" cy="460.5" r="6.0" fill="#721c6e" fill-opacity="0.5"/>
<circle cx="385.0" cy="460.5" r="5.5" fill="#721c6e" fill-opacity="0.5"/>
<circle cx="391.8" cy="457.4" r="4.0" fill="#721c6e" fill-opacity="0.5"/>
<circle cx="399.8" cy="464.2" r="7.5" fill="#fbbb68" fill-opacity="0.5"/>
<circle cx="373.2" cy="473.5" r="7.5" fill="#9ec5fb" fill-opacity="0.5"/>
<circle cx="404.8" cy="477.2" r="4.5" fill="#721c6e" fill-opacity="0.5"/>
<circle cx="437.1" cy="471.7" r="6.2" fill="#fbbb68" fill-opacity="0.5"/>
<circle cx="385.0" cy="484.3" r="2.5" fill="#9ec5fb" fill-opacity="0.5"/>
<circle cx="373.2" cy="494.6" r="8.5" fill="#fbbb68" fill-opacity="0.5"/>
<circle cx="371.3" cy="492.1" r="3.5" fill="#721c6e" fill-opacity="0.5"/>
<circle cx="375.0" cy="498.3" r="5.0" fill="#721c6e" fill-opacity="0.5"/>
<circle cx="398.0" cy="507.0" r="4.5" fill="#fbbb68" fill-opacity="0.5"/>
<circle cx="404.8" cy="511.8" r="6.0" fill="#721c6e" fill-opacity="0.5"/>
<circle cx="400.5" cy="518.6" r="6.0" fill="#721c6e" fill-opacity="0.5"/>
<circle cx="395.3" cy="526.1" r="2.5" fill="#721c6e" fill-opacity="0.5"/>
<circle cx="438.9" cy="529.2" r="7.5" fill="#721c6e" fill-opacity="0.5"/>
<circle cx="415.6" cy="583.2" r="7.5" fill="#721c6e" fill-opacity="0.5"/>
</g>
<clipPath id="cc3"><rect x="518.6" y="428.2" width="164.79999999999995" height="163.00000000000006"/></clipPath><g clip-path="url(#cc3)">
<circle cx="556.5" cy="435.4" r="7.5" fill="#721c6e" fill-opacity="0.5"/>
<circle cx="562.0" cy="466.5" r="6.2" fill="#721c6e" fill-opacity="0.5"/>
<circle cx="562.3" cy="502.4" r="2.5" fill="#9ec5fb" fill-opacity="0.5"/>
<circle cx="601.0" cy="501.3" r="5.0" fill="#721c6e" fill-opacity="0.5"/>
<circle cx="526.7" cy="512.4" r="7.5" fill="#721c6e" fill-opacity="0.5"/>
<circle cx="539.7" cy="512.4" r="8.5" fill="#721c6e" fill-opacity="0.5"/>
<circle cx="542.2" cy="522.9" r="4.0" fill="#721c6e" fill-opacity="0.5"/>
<circle cx="573.5" cy="511.5" r="3.5" fill="#721c6e" fill-opacity="0.5"/>
<circle cx="568.9" cy="522.5" r="2.0" fill="#721c6e" fill-opacity="0.5"/>
<circle cx="581.6" cy="519.6" r="2.5" fill="#721c6e" fill-opacity="0.5"/>
<circle cx="592.4" cy="519.8" r="7.5" fill="#9ec5fb" fill-opacity="0.5"/>
<circle cx="586.6" cy="523.5" r="4.5" fill="#721c6e" fill-opacity="0.5"/>
<circle cx="578.4" cy="529.7" r="6.0" fill="#fbbb68" fill-opacity="0.5"/>
<circle cx="582.5" cy="545.0" r="2.5" fill="#721c6e" fill-opacity="0.5"/>
<circle cx="594.9" cy="547.1" r="5.0" fill="#9ec5fb" fill-opacity="0.5"/>
<circle cx="587.5" cy="553.9" r="7.0" fill="#fbbb68" fill-opacity="0.5"/>
<circle cx="581.3" cy="555.8" r="5.5" fill="#fbbb68" fill-opacity="0.5"/>
<circle cx="594.6" cy="558.3" r="3.5" fill="#721c6e" fill-opacity="0.5"/>
<circle cx="597.4" cy="564.5" r="2.5" fill="#fbbb68" fill-opacity="0.5"/>
<circle cx="526.4" cy="567.0" r="6.0" fill="#fbbb68" fill-opacity="0.5"/>
<circle cx="543.4" cy="571.3" r="6.0" fill="#fbbb68" fill-opacity="0.5"/>
<circle cx="539.7" cy="583.7" r="8.5" fill="#fbbb68" fill-opacity="0.5"/>
<circle cx="536.6" cy="576.9" r="6.0" fill="#721c6e" fill-opacity="0.5"/>
<circle cx="560.8" cy="571.9" r="8.0" fill="#fbbb68" fill-opacity="0.5"/>
<circle cx="557.5" cy="563.9" r="5.3" fill="#721c6e" fill-opacity="0.5"/>
<circle cx="565.8" cy="563.9" r="7.5" fill="#fbbb68" fill-opacity="0.5"/>
<circle cx="572.6" cy="563.9" r="7.0" fill="#9ec5fb" fill-opacity="0.5"/>
<circle cx="573.8" cy="573.2" r="7.0" fill="#b8c4d4" fill-opacity="0.7"/>
<circle cx="576.3" cy="561.4" r="4.0" fill="#fbbb68" fill-opacity="0.5"/>
<circle cx="576.3" cy="579.4" r="8.5" fill="#fbbb68" fill-opacity="0.5"/>
<circle cx="578.2" cy="575.0" r="3.8" fill="#721c6e" fill-opacity="0.5"/>
<circle cx="590.0" cy="565.7" r="5.0" fill="#721c6e" fill-opacity="0.5"/>
<circle cx="591.2" cy="574.4" r="5.0" fill="#721c6e" fill-opacity="0.5"/>
<circle cx="591.2" cy="574.4" r="3.5" fill="#721c6e" fill-opacity="0.4"/>
<circle cx="592.4" cy="581.8" r="4.0" fill="#721c6e" fill-opacity="0.5"/>
<circle cx="599.3" cy="575.4" r="5.0" fill="#721c6e" fill-opacity="0.5"/>
<circle cx="604.9" cy="581.0" r="3.5" fill="#721c6e" fill-opacity="0.5"/>
<circle cx="597.4" cy="571.9" r="5.0" fill="#9ec5fb" fill-opacity="0.5"/>
<circle cx="600.5" cy="571.9" r="5.0" fill="#9ec5fb" fill-opacity="0.5"/>
<circle cx="610.6" cy="572.8" r="8.0" fill="#9ec5fb" fill-opacity="0.5"/>
<circle cx="619.3" cy="574.1" r="7.0" fill="#9ec5fb" fill-opacity="0.5"/>
<circle cx="628.8" cy="572.8" r="4.0" fill="#9ec5fb" fill-opacity="0.5"/>
<circle cx="618.1" cy="567.8" r="3.0" fill="#fbbb68" fill-opacity="0.5"/>
<circle cx="612.8" cy="562.8" r="3.0" fill="#9ec5fb" fill-opacity="0.5"/>
<circle cx="650.4" cy="502.8" r="2.0" fill="#9ec5fb" fill-opacity="0.5"/>
<circle cx="663.3" cy="507.6" r="3.5" fill="#9ec5fb" fill-opacity="0.5"/>
<circle cx="636.3" cy="507.6" r="3.0" fill="#fbbb68" fill-opacity="0.5"/>
<circle cx="622.7" cy="512.8" r="3.0" fill="#9ec5fb" fill-opacity="0.5"/>
<circle cx="633.8" cy="512.8" r="4.0" fill="#9ec5fb" fill-opacity="0.5"/>
<circle cx="652.0" cy="514.5" r="5.5" fill="#9ec5fb" fill-opacity="0.5"/>
<circle cx="638.6" cy="518.2" r="2.0" fill="#721c6e" fill-opacity="0.5"/>
<circle cx="646.3" cy="520.1" r="4.0" fill="#9ec5fb" fill-opacity="0.5"/>
<circle cx="609.6" cy="525.4" r="6.5" fill="#721c6e" fill-opacity="0.5"/>
<circle cx="620.3" cy="525.4" r="2.0" fill="#fbbb68" fill-opacity="0.5"/>
<circle cx="631.9" cy="528.9" r="6.5" fill="#9ec5fb" fill-opacity="0.5"/>
<circle cx="636.9" cy="532.0" r="4.0" fill="#fbbb68" fill-opacity="0.5"/>
<circle cx="627.5" cy="526.4" r="3.0" fill="#9ec5fb" fill-opacity="0.5"/>
<circle cx="655.1" cy="544.6" r="3.0" fill="#721c6e" fill-opacity="0.5"/>
<circle cx="662.7" cy="542.7" r="3.0" fill="#721c6e" fill-opacity="0.5"/>
<circle cx="667.7" cy="542.5" r="2.5" fill="#721c6e" fill-opacity="0.5"/>
<circle cx="661.4" cy="549.0" r="3.8" fill="#721c6e" fill-opacity="0.5"/>
<circle cx="676.1" cy="547.7" r="3.2" fill="#721c6e" fill-opacity="0.5"/>
<circle cx="665.8" cy="546.5" r="2.0" fill="#fbbb68" fill-opacity="0.5"/>
<circle cx="663.9" cy="553.0" r="3.0" fill="#fbbb68" fill-opacity="0.5"/>
<circle cx="644.5" cy="548.4" r="4.5" fill="#fbbb68" fill-opacity="0.5"/>
<circle cx="654.2" cy="551.5" r="3.5" fill="#fbbb68" fill-opacity="0.5"/>
<circle cx="653.9" cy="556.5" r="3.5" fill="#fbbb68" fill-opacity="0.5"/>
<circle cx="609.0" cy="555.3" r="4.0" fill="#fbbb68" fill-opacity="0.5"/>
<circle cx="617.5" cy="550.9" r="5.0" fill="#9ec5fb" fill-opacity="0.5"/>
<circle cx="626.2" cy="548.4" r="3.0" fill="#fbbb68" fill-opacity="0.5"/>
<circle cx="630.6" cy="557.1" r="7.0" fill="#c07a50" fill-opacity="0.6"/>
<circle cx="626.9" cy="557.1" r="4.5" fill="#b8c4d4" fill-opacity="0.6"/>
<circle cx="622.5" cy="554.6" r="3.5" fill="#fbbb68" fill-opacity="0.5"/>
<circle cx="643.8" cy="559.7" r="5.5" fill="#fbbb68" fill-opacity="0.5"/>
<circle cx="631.3" cy="569.1" r="4.0" fill="#721c6e" fill-opacity="0.5"/>
<circle cx="626.2" cy="568.4" r="3.0" fill="#721c6e" fill-opacity="0.5"/>
<circle cx="637.5" cy="564.1" r="2.5" fill="#9ec5fb" fill-opacity="0.5"/>
<circle cx="641.3" cy="571.0" r="4.5" fill="#b8c4d4" fill-opacity="0.7"/>
<circle cx="643.8" cy="568.4" r="3.5" fill="#9ec5fb" fill-opacity="0.5"/>
<circle cx="655.8" cy="565.9" r="4.0" fill="#fbbb68" fill-opacity="0.5"/>
</g>
<clipPath id="cd1"><rect x="44.4" y="632.7" width="165.0" height="163.39999999999998"/></clipPath><g clip-path="url(#cd1)">
<circle cx="143.4" cy="677.4" r="5.3" fill="#9ec5fb" fill-opacity="0.5"/>
<circle cx="151.1" cy="675.0" r="2.0" fill="#fbbb68" fill-opacity="0.5"/>
<circle cx="145.0" cy="688.8" r="5.3" fill="#fbbb68" fill-opacity="0.5"/>
<circle cx="128.9" cy="690.2" r="4.3" fill="#fbbb68" fill-opacity="0.5"/>
<circle cx="122.6" cy="692.8" r="5.0" fill="#9ec5fb" fill-opacity="0.5"/>
<circle cx="195.3" cy="693.4" r="2.7" fill="#721c6e" fill-opacity="0.5"/>
<circle cx="131.2" cy="701.3" r="3.0" fill="#9ec5fb" fill-opacity="0.5"/>
<circle cx="148.9" cy="704.6" r="6.0" fill="#9ec5fb" fill-opacity="0.5"/>
<circle cx="173.2" cy="707.2" r="8.5" fill="#9ec5fb" fill-opacity="0.5"/>
<circle cx="120.7" cy="700.7" r="3.5" fill="#721c6e" fill-opacity="0.5"/>
<circle cx="129.2" cy="707.9" r="3.5" fill="#fbbb68" fill-opacity="0.5"/>
<circle cx="131.2" cy="710.0" r="3.0" fill="#fbbb68" fill-opacity="0.5"/>
<circle cx="80.0" cy="702.0" r="8.0" fill="#721c6e" fill-opacity="0.5"/>
<circle cx="83.0" cy="700.0" r="6.0" fill="#721c6e" fill-opacity="0.4"/>
<circle cx="75.0" cy="709.0" r="7.5" fill="#721c6e" fill-opacity="0.45"/>
<circle cx="76.3" cy="721.7" r="6.0" fill="#721c6e" fill-opacity="0.45"/>
<circle cx="73.0" cy="714.0" r="6.0" fill="#721c6e" fill-opacity="0.4"/>
<circle cx="90.0" cy="704.0" r="6.0" fill="#721c6e" fill-opacity="0.45"/>
<circle cx="96.1" cy="707.4" r="6.0" fill="#721c6e" fill-opacity="0.4"/>
<circle cx="106.0" cy="705.5" r="7.5" fill="#721c6e" fill-opacity="0.5"/>
<circle cx="103.0" cy="707.0" r="6.0" fill="#721c6e" fill-opacity="0.35"/>
<circle cx="95.0" cy="722.0" r="7.0" fill="#fbbb68" fill-opacity="0.5"/>
<circle cx="88.0" cy="745.0" r="7.0" fill="#fbbb68" fill-opacity="0.5"/>
<circle cx="100.0" cy="733.0" r="6.0" fill="#fbbb68" fill-opacity="0.5"/>
<circle cx="92.0" cy="728.0" r="6.0" fill="#fbbb68" fill-opacity="0.5"/>
<circle cx="84.0" cy="712.0" r="5.0" fill="#fbbb68" fill-opacity="0.5"/>
<circle cx="93.6" cy="714.9" r="7.0" fill="#fbbb68" fill-opacity="0.5"/>
<circle cx="88.7" cy="719.9" r="6.0" fill="#fbbb68" fill-opacity="0.5"/>
<circle cx="99.8" cy="721.1" r="7.0" fill="#fbbb68" fill-opacity="0.5"/>
<circle cx="88.7" cy="742.2" r="7.0" fill="#fbbb68" fill-opacity="0.5"/>
<circle cx="89.9" cy="737.2" r="6.0" fill="#fbbb68" fill-opacity="0.5"/>
<circle cx="93.0" cy="730.4" r="4.5" fill="#721c6e" fill-opacity="0.5"/>
<circle cx="103.6" cy="736.0" r="4.0" fill="#fbbb68" fill-opacity="0.5"/>
<circle cx="103.6" cy="736.0" r="3.0" fill="#721c6e" fill-opacity="0.3"/>
<circle cx="107.9" cy="740.3" r="3.5" fill="#721c6e" fill-opacity="0.5"/>
<circle cx="111.6" cy="747.1" r="6.0" fill="#9ec5fb" fill-opacity="0.5"/>
<circle cx="111.6" cy="748.0" r="2.5" fill="#b0b0b0" fill-opacity="0.6"/>
<circle cx="121.5" cy="743.4" r="4.5" fill="#9ec5fb" fill-opacity="0.5"/>
<circle cx="121.5" cy="744.0" r="3.0" fill="#b0b0b0" fill-opacity="0.6"/>
<circle cx="98.0" cy="750.2" r="4.0" fill="#721c6e" fill-opacity="0.5"/>
<circle cx="96.1" cy="753.3" r="4.0" fill="#fbbb68" fill-opacity="0.5"/>
<circle cx="90.5" cy="750.2" r="4.0" fill="#9ec5fb" fill-opacity="0.5"/>
<circle cx="98.6" cy="760.2" r="4.0" fill="#9ec5fb" fill-opacity="0.5"/>
<circle cx="115.3" cy="764.5" r="7.5" fill="#721c6e" fill-opacity="0.5"/>
<circle cx="117.2" cy="760.2" r="2.5" fill="#721c6e" fill-opacity="0.5"/>
<circle cx="73.5" cy="766.4" r="5.5" fill="#721c6e" fill-opacity="0.5"/>
<circle cx="73.8" cy="775.1" r="4.5" fill="#721c6e" fill-opacity="0.5"/>
<circle cx="52.1" cy="776.3" r="6.0" fill="#721c6e" fill-opacity="0.5"/>
<circle cx="95.5" cy="782.5" r="8.5" fill="#9ec5fb" fill-opacity="0.5"/>
<circle cx="98.0" cy="782.0" r="3.5" fill="#9ec5fb" fill-opacity="0.5"/>
<circle cx="111.6" cy="778.2" r="3.5" fill="#fbbb68" fill-opacity="0.5"/>
<circle cx="114.7" cy="776.0" r="3.0" fill="#b8c0c8" fill-opacity="0.6"/>
<circle cx="128.4" cy="758.3" r="3.0" fill="#721c6e" fill-opacity="0.5"/>
<circle cx="147.6" cy="720.8" r="3.5" fill="#fbbb68" fill-opacity="0.5"/>
<circle cx="140.0" cy="725.0" r="4.5" fill="#fbbb68" fill-opacity="0.5"/>
<circle cx="140.0" cy="725.0" r="3.0" fill="#721c6e" fill-opacity="0.3"/>
<circle cx="159.4" cy="734.7" r="4.5" fill="#fbbb68" fill-opacity="0.5"/>
<circle cx="187.1" cy="745.8" r="4.0" fill="#fbbb68" fill-opacity="0.5"/>
<circle cx="183.0" cy="749.2" r="3.0" fill="#721c6e" fill-opacity="0.5"/>
<circle cx="126.8" cy="750.6" r="4.0" fill="#9ec5fb" fill-opacity="0.5"/>
<circle cx="132.3" cy="764.5" r="4.5" fill="#9ec5fb" fill-opacity="0.5"/>
<circle cx="156.2" cy="764.5" r="4.0" fill="#721c6e" fill-opacity="0.5"/>
<circle cx="201.7" cy="761.7" r="2.5" fill="#721c6e" fill-opacity="0.5"/>
<circle cx="176.0" cy="776.3" r="3.5" fill="#721c6e" fill-opacity="0.5"/>
<circle cx="136.5" cy="781.1" r="2.5" fill="#9ec5fb" fill-opacity="0.5"/>
<circle cx="198.9" cy="788.8" r="3.5" fill="#9ec5fb" fill-opacity="0.5"/>
</g>
<line x1="121.4" y1="732.0" x2="91.57" y2="718.05" stroke="#222" stroke-width="0.9"/>
<polygon points="87.40,716.10 92.37,716.33 90.76,719.77" fill="#222"/>
<line x1="121.4" y1="732.0" x2="106.97" y2="718.63" stroke="#222" stroke-width="0.9"/>
<polygon points="103.60,715.50 108.27,717.23 105.68,720.02" fill="#222"/>
<line x1="121.4" y1="732.0" x2="92.54" y2="727.16" stroke="#222" stroke-width="0.9"/>
<polygon points="88.00,726.40 92.85,725.29 92.22,729.03" fill="#222"/>
<line x1="121.4" y1="732.0" x2="98.20" y2="732.00" stroke="#222" stroke-width="0.9"/>
<polygon points="93.60,732.00 98.20,730.10 98.20,733.90" fill="#222"/>
<line x1="121.4" y1="732.0" x2="128.50" y2="724.20" stroke="#222" stroke-width="0.9"/>
<polygon points="131.60,720.80 129.91,725.48 127.10,722.92" fill="#222"/>
<line x1="121.4" y1="732.0" x2="140.75" y2="721.58" stroke="#222" stroke-width="0.9"/>
<polygon points="144.80,719.40 141.65,723.25 139.85,719.91" fill="#222"/>
<line x1="121.4" y1="732.0" x2="131.38" y2="734.84" stroke="#222" stroke-width="0.9"/>
<polygon points="135.80,736.10 130.86,736.67 131.90,733.01" fill="#222"/>
<line x1="121.4" y1="732.0" x2="146.00" y2="739.55" stroke="#222" stroke-width="0.9"/>
<polygon points="150.40,740.90 145.44,741.37 146.56,737.73" fill="#222"/>
<line x1="121.4" y1="732.0" x2="156.58" y2="747.36" stroke="#222" stroke-width="0.9"/>
<polygon points="160.80,749.20 155.82,749.10 157.34,745.62" fill="#222"/>
<line x1="121.4" y1="732.0" x2="135.86" y2="725.00" stroke="#222" stroke-width="0.9"/>
<polygon points="140.00,723.00 136.69,726.71 135.03,723.29" fill="#222"/>
<line x1="121.4" y1="732.0" x2="128.14" y2="646.79" stroke="#448a94" stroke-width="0.9"/>
<polygon points="128.50,642.20 130.03,646.94 126.24,646.64" fill="#448a94"/>
<line x1="121.4" y1="732.0" x2="57.65" y2="753.72" stroke="#448a94" stroke-width="0.9"/>
<polygon points="53.30,755.20 57.04,751.92 58.27,755.52" fill="#448a94"/>
<line x1="121.4" y1="732.0" x2="170.54" y2="758.14" stroke="#448a94" stroke-width="0.9"/>
<polygon points="174.60,760.30 169.65,759.82 171.43,756.46" fill="#448a94"/>
<line x1="121.4" y1="732.0" x2="177.65" y2="765.64" stroke="#448a94" stroke-width="0.9"/>
<polygon points="181.60,768.00 176.68,767.27 178.63,764.01" fill="#448a94"/>
<line x1="121.4" y1="732.0" x2="167.88" y2="754.96" stroke="#448a94" stroke-width="0.9"/>
<polygon points="172.00,757.00 167.03,756.67 168.72,753.26" fill="#448a94"/>
<text x="47.7" y="640.0" font-size="9.3" font-weight="bold" font-style="italic" fill="#448a94" stroke="#448a94" stroke-width="0.08" textLength="95.3" lengthAdjust="spacingAndGlyphs">S. cerevisiae ssg. 2</text>
<text x="82.7" y="711.9000000000001" font-size="9.3" font-weight="bold" fill="#111111" stroke="#111111" stroke-width="0.08" textLength="40.7" lengthAdjust="spacingAndGlyphs">fructose</text>
<text x="142.3" y="711.8000000000001" font-size="9.3" font-weight="bold" fill="#111111" stroke="#111111" stroke-width="0.08" textLength="44.8" lengthAdjust="spacingAndGlyphs">mannitol</text>
<text x="66.3" y="718.1" font-size="9.3" font-weight="bold" fill="#111111" stroke="#111111" stroke-width="0.08" textLength="15.5" lengthAdjust="spacingAndGlyphs">TTA</text>
<text x="107.9" y="718.7" font-size="9.3" font-weight="bold" fill="#111111" stroke="#111111" stroke-width="0.08" textLength="51.2" lengthAdjust="spacingAndGlyphs">lactic acid</text>
<text x="30.9" y="726.1" font-size="9.3" font-weight="bold" fill="#111111" stroke="#111111" stroke-width="0.08" textLength="54.0" lengthAdjust="spacingAndGlyphs">acetic acid</text>
<text x="150.8" y="727.1" font-size="9.3" font-weight="bold" fill="#111111" stroke="#111111" stroke-width="0.08" textLength="37.4" lengthAdjust="spacingAndGlyphs">ethanol</text>
<text x="76.0" y="737.3000000000001" font-size="9.3" font-weight="bold" fill="#111111" stroke="#111111" stroke-width="0.08" textLength="12.4" lengthAdjust="spacingAndGlyphs">pH</text>
<text x="136.9" y="736.1" font-size="9.3" font-weight="bold" fill="#111111" stroke="#111111" stroke-width="0.08" textLength="47.4" lengthAdjust="spacingAndGlyphs">DNA yield</text>
<text x="153.6" y="743.0" font-size="9.3" font-weight="bold" fill="#111111" stroke="#111111" stroke-width="0.08" textLength="46.3" lengthAdjust="spacingAndGlyphs">LAB CFUs</text>
<text x="164.7" y="750.5" font-size="9.3" font-weight="bold" font-style="italic" fill="#111111" textLength="55.3" lengthAdjust="spacingAndGlyphs">yeast CFUs</text>
<text x="173.3" y="759.2" font-size="9.3" font-weight="bold" fill="#448a94" stroke="#448a94" stroke-width="0.08" textLength="61.2" lengthAdjust="spacingAndGlyphs">C. herbarum</text>
<text x="186.4" y="769.4000000000001" font-size="9.3" font-weight="bold" font-style="italic" fill="#448a94" stroke="#448a94" stroke-width="0.08" textLength="59.8" lengthAdjust="spacingAndGlyphs">A. pullulans</text>
<text x="35.9" y="761.5" font-size="9.3" font-weight="bold" font-style="italic" fill="#448a94" stroke="#448a94" stroke-width="0.08" textLength="62.7" lengthAdjust="spacingAndGlyphs">S. cerevisiae</text>
<text x="117.8" y="777.7" font-size="9.3" font-weight="bold" font-style="italic" fill="#448a94" stroke="#448a94" stroke-width="0.08" textLength="66.5" lengthAdjust="spacingAndGlyphs">Alternaria sp.</text>
<clipPath id="cd2"><rect x="281.9" y="633.2" width="165.70000000000005" height="163.29999999999995"/></clipPath><g clip-path="url(#cd2)">
<circle cx="291.0" cy="692.0" r="6.5" fill="#721c6e" fill-opacity="0.5"/>
<circle cx="296.0" cy="700.0" r="5.5" fill="#721c6e" fill-opacity="0.4"/>
<circle cx="289.5" cy="690.5" r="5.0" fill="#721c6e" fill-opacity="0.4"/>
<circle cx="359.9" cy="640.4" r="4.0" fill="#9ec5fb" fill-opacity="0.5"/>
<circle cx="357.3" cy="651.4" r="3.0" fill="#721c6e" fill-opacity="0.5"/>
<circle cx="358.9" cy="659.7" r="6.0" fill="#9ec5fb" fill-opacity="0.5"/>
<circle cx="362.6" cy="661.5" r="6.0" fill="#9ec5fb" fill-opacity="0.5"/>
<circle cx="352.1" cy="664.6" r="7.5" fill="#9ec5fb" fill-opacity="0.5"/>
<circle cx="352.1" cy="664.6" r="7.0" fill="#721c6e" fill-opacity="0.4"/>
<circle cx="345.0" cy="660.9" r="4.0" fill="#721c6e" fill-opacity="0.5"/>
<circle cx="342.8" cy="660.0" r="3.5" fill="#fbbb68" fill-opacity="0.5"/>
<circle cx="340.3" cy="668.4" r="3.5" fill="#fbbb68" fill-opacity="0.5"/>
<circle cx="338.1" cy="676.4" r="4.0" fill="#721c6e" fill-opacity="0.5"/>
<circle cx="332.9" cy="677.0" r="6.5" fill="#9ec5fb" fill-opacity="0.5"/>
<circle cx="348.7" cy="677.7" r="2.5" fill="#721c6e" fill-opacity="0.5"/>
<circle cx="355.8" cy="676.4" r="3.0" fill="#721c6e" fill-opacity="0.5"/>
<circle cx="360.8" cy="676.4" r="4.5" fill="#9ec5fb" fill-opacity="0.5"/>
<circle cx="346.5" cy="682.0" r="5.5" fill="#9ec5fb" fill-opacity="0.5"/>
<circle cx="344.0" cy="685.1" r="7.0" fill="#9ec5fb" fill-opacity="0.5"/>
<circle cx="356.4" cy="689.5" r="4.5" fill="#fbbb68" fill-opacity="0.5"/>
<circle cx="323.0" cy="683.9" r="6.5" fill="#9ec5fb" fill-opacity="0.5"/>
<circle cx="326.7" cy="684.0" r="4.5" fill="#fbbb68" fill-opacity="0.5"/>
<circle cx="326.7" cy="684.0" r="4.0" fill="#b8b8b8" fill-opacity="0.3"/>
<circle cx="332.2" cy="690.1" r="4.3" fill="#721c6e" fill-opacity="0.5"/>
<circle cx="331.6" cy="693.8" r="5.0" fill="#9ec5fb" fill-opacity="0.5"/>
<circle cx="339.7" cy="700.6" r="5.5" fill="#9ec5fb" fill-opacity="0.5"/>
<circle cx="339.7" cy="700.6" r="4.0" fill="#c8c0b0" fill-opacity="0.5"/>
<circle cx="342.8" cy="709.5" r="8.5" fill="#9ec5fb" fill-opacity="0.5"/>
<circle cx="353.0" cy="702.5" r="2.0" fill="#9ec5fb" fill-opacity="0.5"/>
<circle cx="345.3" cy="698.0" r="3.0" fill="#9ec5fb" fill-opacity="0.5"/>
<circle cx="287.0" cy="693.2" r="7.0" fill="#721c6e" fill-opacity="0.5"/>
<circle cx="294.4" cy="691.3" r="7.0" fill="#721c6e" fill-opacity="0.5"/>
<circle cx="295.6" cy="698.8" r="6.5" fill="#721c6e" fill-opacity="0.5"/>
<circle cx="295.6" cy="702.5" r="6.0" fill="#721c6e" fill-opacity="0.5"/>
<circle cx="296.0" cy="698.0" r="4.0" fill="#fbbb68" fill-opacity="0.3"/>
<circle cx="316.7" cy="690.1" r="7.0" fill="#fbbb68" fill-opacity="0.5"/>
<circle cx="316.7" cy="690.1" r="5.0" fill="#721c6e" fill-opacity="0.25"/>
<circle cx="309.3" cy="695.0" r="6.5" fill="#721c6e" fill-opacity="0.5"/>
<circle cx="314.3" cy="700.0" r="6.0" fill="#721c6e" fill-opacity="0.5"/>
<circle cx="314.3" cy="705.0" r="5.0" fill="#721c6e" fill-opacity="0.5"/>
<circle cx="309.3" cy="700.0" r="5.0" fill="#fbbb68" fill-opacity="0.5"/>
<circle cx="319.2" cy="696.3" r="5.0" fill="#fbbb68" fill-opacity="0.5"/>
<circle cx="324.2" cy="695.0" r="4.0" fill="#9ec5fb" fill-opacity="0.5"/>
<circle cx="367.0" cy="659.7" r="3.3" fill="#fbbb68" fill-opacity="0.5"/>
<circle cx="382.7" cy="661.5" r="2.7" fill="#fbbb68" fill-opacity="0.5"/>
<circle cx="399.2" cy="658.4" r="4.0" fill="#721c6e" fill-opacity="0.5"/>
<circle cx="371.7" cy="672.7" r="4.0" fill="#9ec5fb" fill-opacity="0.5"/>
<circle cx="377.1" cy="676.2" r="2.5" fill="#9ec5fb" fill-opacity="0.5"/>
<circle cx="366.3" cy="674.0" r="2.0" fill="#fbbb68" fill-opacity="0.5"/>
<circle cx="367.2" cy="680.1" r="3.0" fill="#fbbb68" fill-opacity="0.5"/>
<circle cx="377.8" cy="686.3" r="2.7" fill="#721c6e" fill-opacity="0.5"/>
<circle cx="383.5" cy="684.5" r="3.5" fill="#fbbb68" fill-opacity="0.5"/>
<circle cx="406.0" cy="683.2" r="3.0" fill="#721c6e" fill-opacity="0.5"/>
<circle cx="416.3" cy="693.5" r="3.5" fill="#9ec5fb" fill-opacity="0.5"/>
<circle cx="401.3" cy="705.0" r="3.8" fill="#9ec5fb" fill-opacity="0.5"/>
<circle cx="405.1" cy="714.7" r="5.3" fill="#9ec5fb" fill-opacity="0.5"/>
<circle cx="320.5" cy="723.6" r="4.5" fill="#721c6e" fill-opacity="0.5"/>
<circle cx="322.3" cy="729.8" r="7.5" fill="#fbbb68" fill-opacity="0.5"/>
<circle cx="418.7" cy="733.5" r="3.2" fill="#721c6e" fill-opacity="0.5"/>
<circle cx="429.6" cy="735.4" r="4.0" fill="#fbbb68" fill-opacity="0.5"/>
<circle cx="439.3" cy="751.9" r="2.0" fill="#721c6e" fill-opacity="0.5"/>
<circle cx="324.2" cy="763.3" r="8.5" fill="#fbbb68" fill-opacity="0.5"/>
<circle cx="330.4" cy="765.8" r="8.0" fill="#fbbb68" fill-opacity="0.5"/>
<circle cx="321.7" cy="773.9" r="8.5" fill="#fbbb68" fill-opacity="0.5"/>
<circle cx="401.3" cy="789.4" r="8.5" fill="#9ec5fb" fill-opacity="0.5"/>
</g>
<clipPath id="cd3"><rect x="518.6" y="632.3" width="164.5" height="163.4000000000001"/></clipPath><g clip-path="url(#cd3)">
<circle cx="565.0" cy="733.0" r="6.0" fill="#fbbb68" fill-opacity="0.5"/>
<circle cx="575.0" cy="728.0" r="6.0" fill="#fbbb68" fill-opacity="0.5"/>
<circle cx="545.0" cy="738.0" r="6.0" fill="#fbbb68" fill-opacity="0.5"/>
<circle cx="570.0" cy="740.0" r="5.0" fill="#fbbb68" fill-opacity="0.5"/>
<circle cx="583.0" cy="730.0" r="4.0" fill="#fbbb68" fill-opacity="0.5"/>
<circle cx="556.0" cy="730.0" r="6.0" fill="#fbbb68" fill-opacity="0.35"/>
<circle cx="591.8" cy="639.4" r="8.5" fill="#9ec5fb" fill-opacity="0.5"/>
<circle cx="606.2" cy="665.6" r="2.0" fill="#721c6e" fill-opacity="0.5"/>
<circle cx="592.4" cy="688.5" r="7.5" fill="#9ec5fb" fill-opacity="0.5"/>
<circle cx="595.5" cy="689.0" r="3.0" fill="#9ec5fb" fill-opacity="0.5"/>
<circle cx="581.3" cy="695.9" r="4.0" fill="#9ec5fb" fill-opacity="0.5"/>
<circle cx="602.4" cy="691.6" r="5.0" fill="#fbbb68" fill-opacity="0.5"/>
<circle cx="604.9" cy="696.4" r="3.5" fill="#fbbb68" fill-opacity="0.5"/>
<circle cx="608.0" cy="698.3" r="2.0" fill="#721c6e" fill-opacity="0.5"/>
<circle cx="596.2" cy="699.6" r="6.0" fill="#9ec5fb" fill-opacity="0.5"/>
<circle cx="598.0" cy="700.5" r="3.5" fill="#fbbb68" fill-opacity="0.5"/>
<circle cx="586.2" cy="702.7" r="3.5" fill="#9ec5fb" fill-opacity="0.5"/>
<circle cx="589.0" cy="706.2" r="2.5" fill="#721c6e" fill-opacity="0.5"/>
<circle cx="588.7" cy="709.9" r="4.0" fill="#fbbb68" fill-opacity="0.5"/>
<circle cx="552.1" cy="703.3" r="6.0" fill="#fbbb68" fill-opacity="0.5"/>
<circle cx="554.2" cy="701.5" r="4.5" fill="#721c6e" fill-opacity="0.5"/>
<circle cx="555.2" cy="707.7" r="6.5" fill="#721c6e" fill-opacity="0.5"/>
<circle cx="557.7" cy="708.6" r="7.0" fill="#721c6e" fill-opacity="0.5"/>
<circle cx="554.0" cy="712.4" r="4.5" fill="#721c6e" fill-opacity="0.5"/>
<circle cx="567.6" cy="704.0" r="3.5" fill="#721c6e" fill-opacity="0.5"/>
<circle cx="577.6" cy="704.0" r="3.5" fill="#721c6e" fill-opacity="0.5"/>
<circle cx="572.6" cy="704.0" r="3.0" fill="#9ec5fb" fill-opacity="0.5"/>
<circle cx="565.8" cy="706.0" r="2.5" fill="#9ec5fb" fill-opacity="0.5"/>
<circle cx="565.8" cy="712.4" r="4.0" fill="#721c6e" fill-opacity="0.5"/>
<circle cx="575.1" cy="712.4" r="4.5" fill="#9ec5fb" fill-opacity="0.5"/>
<circle cx="580.0" cy="712.4" r="3.0" fill="#fbbb68" fill-opacity="0.5"/>
<circle cx="528.5" cy="718.0" r="8.5" fill="#721c6e" fill-opacity="0.5"/>
<circle cx="530.0" cy="722.0" r="7.0" fill="#721c6e" fill-opacity="0.3"/>
<circle cx="525.4" cy="724.8" r="8.5" fill="#721c6e" fill-opacity="0.5"/>
<circle cx="532.9" cy="719.8" r="7.0" fill="#721c6e" fill-opacity="0.5"/>
<circle cx="533.5" cy="726.6" r="6.5" fill="#721c6e" fill-opacity="0.5"/>
<circle cx="541.6" cy="721.0" r="5.0" fill="#721c6e" fill-opacity="0.5"/>
<circle cx="537.9" cy="734.7" r="6.5" fill="#721c6e" fill-opacity="0.5"/>
<circle cx="538.5" cy="726.6" r="3.0" fill="#fbbb68" fill-opacity="0.5"/>
<circle cx="548.4" cy="723.5" r="5.0" fill="#fbbb68" fill-opacity="0.5"/>
<circle cx="549.0" cy="727.9" r="6.5" fill="#721c6e" fill-opacity="0.5"/>
<circle cx="550.3" cy="734.7" r="7.0" fill="#fbbb68" fill-opacity="0.5"/>
<circle cx="557.7" cy="723.5" r="6.5" fill="#fbbb68" fill-opacity="0.5"/>
<circle cx="555.2" cy="719.8" r="5.0" fill="#fbbb68" fill-opacity="0.5"/>
<circle cx="559.0" cy="725.4" r="6.5" fill="#c0c4cc" fill-opacity="0.5"/>
<circle cx="563.9" cy="727.3" r="4.5" fill="#721c6e" fill-opacity="0.5"/>
<circle cx="563.9" cy="727.3" r="4.5" fill="#9ec5fb" fill-opacity="0.4"/>
<circle cx="570.1" cy="724.8" r="3.5" fill="#721c6e" fill-opacity="0.5"/>
<circle cx="571.3" cy="719.8" r="5.0" fill="#9ec5fb" fill-opacity="0.5"/>
<circle cx="561.4" cy="738.4" r="4.5" fill="#fbbb68" fill-opacity="0.5"/>
<circle cx="560.8" cy="740.9" r="4.0" fill="#fbbb68" fill-opacity="0.5"/>
<circle cx="578.8" cy="728.5" r="4.5" fill="#fbbb68" fill-opacity="0.5"/>
<circle cx="577.6" cy="721.0" r="5.0" fill="#c0c4cc" fill-opacity="0.6"/>
<circle cx="582.5" cy="718.0" r="4.5" fill="#c0c8d0" fill-opacity="0.6"/>
<circle cx="571.3" cy="736.6" r="2.5" fill="#9ec5fb" fill-opacity="0.5"/>
<circle cx="592.4" cy="726.0" r="7.5" fill="#721c6e" fill-opacity="0.5"/>
<circle cx="592.4" cy="726.0" r="7.0" fill="#9ec5fb" fill-opacity="0.3"/>
<circle cx="593.1" cy="727.0" r="4.5" fill="#9ec5fb" fill-opacity="0.5"/>
<circle cx="593.7" cy="731.6" r="2.5" fill="#fbbb68" fill-opacity="0.5"/>
<circle cx="597.4" cy="711.1" r="4.0" fill="#9ec5fb" fill-opacity="0.5"/>
<circle cx="599.3" cy="714.9" r="5.0" fill="#9ec5fb" fill-opacity="0.5"/>
<circle cx="601.1" cy="718.0" r="2.5" fill="#721c6e" fill-opacity="0.5"/>
<circle cx="609.3" cy="710.8" r="6.0" fill="#9ec5fb" fill-opacity="0.5"/>
<circle cx="621.2" cy="709.3" r="3.0" fill="#fbbb68" fill-opacity="0.5"/>
<circle cx="630.4" cy="714.0" r="8.5" fill="#9ec5fb" fill-opacity="0.5"/>
<circle cx="639.4" cy="715.9" r="5.5" fill="#9ec5fb" fill-opacity="0.5"/>
<circle cx="644.2" cy="710.2" r="2.7" fill="#721c6e" fill-opacity="0.5"/>
<circle cx="621.9" cy="726.5" r="3.5" fill="#fbbb68" fill-opacity="0.5"/>
<circle cx="602.4" cy="728.8" r="2.0" fill="#fbbb68" fill-opacity="0.5"/>
<circle cx="605.8" cy="736.0" r="4.0" fill="#9ec5fb" fill-opacity="0.5"/>
<circle cx="622.1" cy="736.3" r="2.5" fill="#9ec5fb" fill-opacity="0.5"/>
<circle cx="652.0" cy="728.4" r="3.0" fill="#721c6e" fill-opacity="0.5"/>
<circle cx="654.9" cy="736.0" r="4.0" fill="#fbbb68" fill-opacity="0.5"/>
<circle cx="674.8" cy="726.5" r="2.0" fill="#721c6e" fill-opacity="0.5"/>
<circle cx="675.8" cy="730.1" r="3.5" fill="#9ec5fb" fill-opacity="0.5"/>
<circle cx="654.1" cy="748.5" r="3.0" fill="#721c6e" fill-opacity="0.5"/>
<circle cx="629.1" cy="753.9" r="4.0" fill="#721c6e" fill-opacity="0.5"/>
<circle cx="636.7" cy="788.3" r="3.8" fill="#9ec5fb" fill-opacity="0.5"/>
</g>
<rect x="43.5" y="15.5" width="165.0" height="164.0" fill="none" stroke="#555" stroke-width="1"/>
<rect x="279.5" y="15.5" width="165.0" height="163.5" fill="none" stroke="#555" stroke-width="1"/>
<rect x="518.7" y="15.5" width="164.79999999999995" height="163.5" fill="none" stroke="#555" stroke-width="1"/>
<rect x="42.7" y="220.3" width="165.0" height="163.0" fill="none" stroke="#555" stroke-width="1"/>
<rect x="280.5" y="221.5" width="165.2" height="163.8" fill="none" stroke="#555" stroke-width="1"/>
<rect x="519.6" y="222.6" width="164.39999999999998" height="163.4" fill="none" stroke="#555" stroke-width="1"/>
<rect x="43.8" y="427.1" width="164.7" height="163.29999999999995" fill="none" stroke="#555" stroke-width="1"/>
<rect x="281.6" y="427.5" width="164.79999999999995" height="163.10000000000002" fill="none" stroke="#555" stroke-width="1"/>
<rect x="518.6" y="428.2" width="164.79999999999995" height="163.00000000000006" fill="none" stroke="#555" stroke-width="1"/>
<rect x="44.4" y="632.7" width="165.0" height="163.39999999999998" fill="none" stroke="#555" stroke-width="1"/>
<rect x="281.9" y="633.2" width="165.70000000000005" height="163.29999999999995" fill="none" stroke="#555" stroke-width="1"/>
<rect x="518.6" y="632.3" width="164.5" height="163.4000000000001" fill="none" stroke="#555" stroke-width="1"/>
</svg>
</body></html>
